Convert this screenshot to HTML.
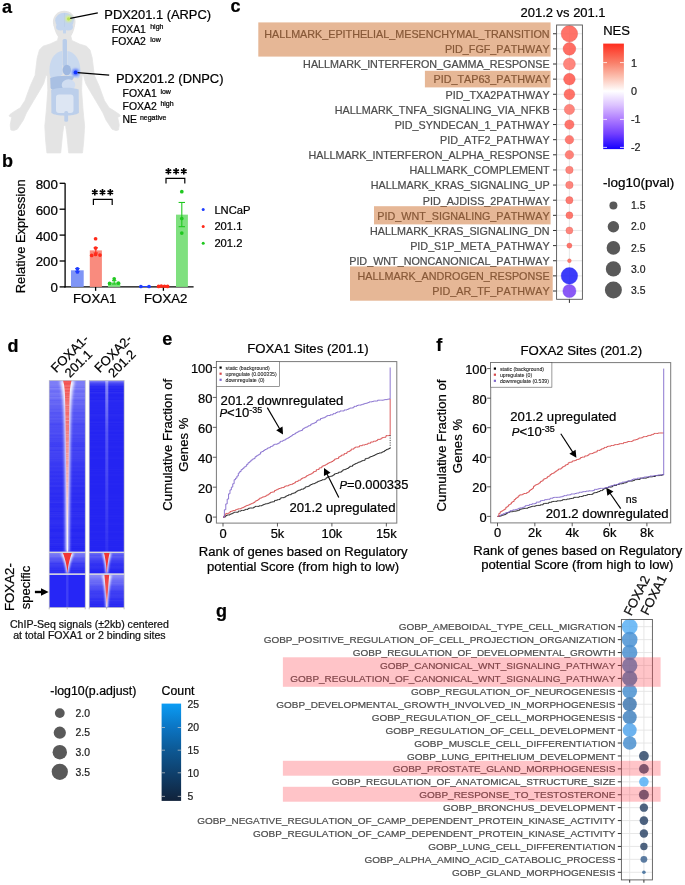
<!DOCTYPE html>
<html><head><meta charset="utf-8"><title>Figure</title>
<style>
html,body{margin:0;padding:0;background:#fff;width:685px;height:885px;overflow:hidden}
svg{display:block;font-family:"Liberation Sans",sans-serif;will-change:transform;font-kerning:none}
text{stroke:#000;stroke-width:0.22px}
</style></head><body>
<svg width="685" height="885" viewBox="0 0 685 885">
<defs>
<filter id="blur1" x="-50%" y="-50%" width="200%" height="200%"><feGaussianBlur stdDeviation="1"/></filter>
<filter id="blur05" x="-50%" y="-50%" width="200%" height="200%"><feGaussianBlur stdDeviation="0.5"/></filter>
<filter id="blur15" x="-50%" y="-50%" width="200%" height="200%"><feGaussianBlur stdDeviation="1.5"/></filter>
<filter id="glow" x="-100%" y="-100%" width="300%" height="300%"><feGaussianBlur stdDeviation="1.2"/></filter>
<linearGradient id="nes" x1="0" y1="0" x2="0" y2="1">
 <stop offset="0" stop-color="#ff2d1e"/>
 <stop offset="0.182" stop-color="#f9806a"/>
 <stop offset="0.316" stop-color="#fcc0b0"/>
 <stop offset="0.45" stop-color="#ffffff"/>
 <stop offset="0.584" stop-color="#dcc2ff"/>
 <stop offset="0.718" stop-color="#ae7cff"/>
 <stop offset="0.853" stop-color="#7440ff"/>
 <stop offset="1" stop-color="#1400ff"/>
</linearGradient>
<linearGradient id="cnt" x1="0" y1="0" x2="0" y2="1">
 <stop offset="0" stop-color="#0a9cf4"/>
 <stop offset="0.25" stop-color="#0b74c2"/>
 <stop offset="0.5" stop-color="#0d5690"/>
 <stop offset="0.75" stop-color="#0f3c66"/>
 <stop offset="1" stop-color="#11223a"/>
</linearGradient>
<linearGradient id="hm1bg" x1="0" y1="0" x2="0" y2="1">
 <stop offset="0" stop-color="#7272ea"/>
 <stop offset="0.3" stop-color="#5a5aea"/>
 <stop offset="1" stop-color="#3434f0"/>
</linearGradient>
<linearGradient id="hm2bg" x1="0" y1="0" x2="0" y2="1">
 <stop offset="0" stop-color="#4040ee"/>
 <stop offset="1" stop-color="#2828f2"/>
</linearGradient>
<linearGradient id="hmV" x1="0" y1="0" x2="1" y2="0">
 <stop offset="0" stop-color="#ffffff" stop-opacity="0"/>
 <stop offset="0.25" stop-color="#ffffff" stop-opacity="0.9"/>
 <stop offset="0.4" stop-color="#f25050"/>
 <stop offset="0.6" stop-color="#f25050"/>
 <stop offset="0.75" stop-color="#ffffff" stop-opacity="0.9"/>
 <stop offset="1" stop-color="#ffffff" stop-opacity="0"/>
</linearGradient>
</defs>
<rect x="0" y="0" width="685" height="885" fill="#fff"/>
<text x="2.00" y="12.80" font-size="18" text-anchor="start" fill="#000" font-weight="bold" >a</text>
<text x="2.00" y="166.90" font-size="18" text-anchor="start" fill="#000" font-weight="bold" >b</text>
<text x="230.50" y="11.60" font-size="18" text-anchor="start" fill="#000" font-weight="bold" >c</text>
<text x="7.60" y="351.60" font-size="18" text-anchor="start" fill="#000" font-weight="bold" >d</text>
<text x="162.20" y="345.20" font-size="18" text-anchor="start" fill="#000" font-weight="bold" >e</text>
<text x="436.30" y="351.10" font-size="18" text-anchor="start" fill="#000" font-weight="bold" >f</text>
<text x="216.00" y="617.30" font-size="18" text-anchor="start" fill="#000" font-weight="bold" >g</text>
<path d="M58.6,36.0 L57.5,40.5 L50.0,44.0 L43.0,46.2 L39.4,50.0 L37.2,58.0 L35.1,75.3 L30.5,85.4 L24.9,100.7 L20.3,107.8 L15.3,110.8 L10.0,114.4 L9.0,116.0 L11.7,117.3 L10.2,125.1 L10.9,130.0 L13.5,130.6 L17.3,129.2 L23.4,120.0 L26.4,112.9 L33.6,100.7 L39.7,90.5 L43.7,83.4 L46.0,75.0 L47.3,76.0 L47.8,90.5 L46.3,110.8 L44.8,126.1 L45.6,140.0 L46.9,152.9 L60.7,152.9 L62.6,134.0 L63.7,126.3 L64.7,125.3 L65.7,126.3 L66.8,134.0 L68.7,152.9 L82.5,152.9 L83.8,140.0 L84.6,126.1 L83.1,110.8 L81.6,90.5 L82.1,76.0 L83.4,75.0 L85.7,83.4 L89.7,90.5 L95.8,100.7 L103.0,112.9 L106.0,120.0 L112.1,129.2 L115.9,130.6 L118.5,130.0 L119.2,125.1 L117.7,117.3 L120.4,116.0 L119.4,114.4 L114.1,110.8 L109.1,107.8 L104.5,100.7 L98.9,85.4 L94.3,75.3 L92.2,58.0 L90.0,50.0 L86.4,46.2 L79.4,44.0 L71.9,40.5 L70.8,36.0 Z" fill="#e4e4e4" stroke="#e4e4e4" stroke-width="0.8" stroke-linejoin="round"/>
<ellipse cx="64.2" cy="22.0" rx="11.3" ry="11.3" fill="#e4e4e4"/>
<path d="M53.6,25 C54.5,31 56.5,35 58.6,37.5 L58.6,42 L70.2,42 L70.2,37.5 C72.2,35 74.2,31 75.0,25 Z" fill="#e4e4e4"/>
<ellipse cx="64.5" cy="20.6" rx="9.3" ry="7.9" fill="#c3d5ee"/>
<ellipse cx="60.6" cy="27.0" rx="4.6" ry="3.4" fill="#c3d5ee"/>
<ellipse cx="68.4" cy="27.0" rx="4.6" ry="3.4" fill="#c3d5ee"/>
<rect x="63.0" y="27" width="3.0" height="6.6" rx="1.2" fill="#c3d5ee"/>
<line x1="64.5" y1="13" x2="64.5" y2="27" stroke="#b4c8e6" stroke-width="0.5"/>
<rect x="62.6" y="39" width="4.4" height="27" rx="1.5" fill="#b9cdea"/>
<path d="M62.2,51 C56,51.5 50.5,58 49.6,67 C49.2,73 49.8,77.5 52,78.5 C56,78 60,76.5 62.6,74.5 Z" fill="#c9d9ef"/>
<path d="M67.4,51 C73.5,51.5 79,58 80.2,67 C80.6,73 80,77.5 78,78.5 C74,78 70,76.5 67.2,74.5 Z" fill="#c9d9ef"/>
<ellipse cx="66.8" cy="70" rx="4.2" ry="5.2" fill="#9fb8e0"/>
<path d="M50.2,78 C57,75.5 67,75 74,76.5 C73,81 68,85 62,88.5 C57,90.5 52,91 50.6,88 Z" fill="#a9c0e3"/>
<ellipse cx="68.5" cy="85" rx="6.8" ry="5.8" fill="#d0ddf1"/>
<path d="M51.2,90 C57,87.5 72,87 78.7,89.5 L78.9,113 C74,116.5 56,116.5 51.4,113 Z" fill="#bccfeb"/>
<rect x="56" y="94.5" width="17.5" height="18.5" rx="3" fill="#dde6f3"/>
<rect x="64.3" y="111" width="3.8" height="10.8" rx="1.5" fill="#bccfeb"/>
<circle cx="68.6" cy="18.8" r="3.2" fill="#d8f08a" filter="url(#glow)"/>
<circle cx="68.6" cy="18.8" r="1.6" fill="#b8e05a"/>
<circle cx="75.6" cy="72.4" r="3.6" fill="#6080ff" filter="url(#glow)"/>
<circle cx="75.6" cy="72.4" r="1.9" fill="#1030ff"/>
<line x1="70.20" y1="18.40" x2="97.80" y2="12.80" stroke="#000" stroke-width="1.3" />
<line x1="77.60" y1="72.60" x2="109.20" y2="75.10" stroke="#000" stroke-width="1.3" />
<text x="104.30" y="18.70" font-size="12.9" text-anchor="start" fill="#000" style="stroke:#000;stroke-width:0.22px" >PDX201.1 (ARPC)</text>
<text x="111.80" y="32.70" font-size="10.4" text-anchor="start" fill="#000" style="stroke:#000;stroke-width:0.22px" >FOXA1</text>
<text x="150.20" y="28.80" font-size="7" text-anchor="start" fill="#000" style="stroke:#000;stroke-width:0.22px" >high</text>
<text x="111.80" y="45.10" font-size="10.4" text-anchor="start" fill="#000" style="stroke:#000;stroke-width:0.22px" >FOXA2</text>
<text x="150.20" y="41.70" font-size="7" text-anchor="start" fill="#000" style="stroke:#000;stroke-width:0.22px" >low</text>
<text x="116.00" y="82.60" font-size="12.9" text-anchor="start" fill="#000" style="stroke:#000;stroke-width:0.22px" >PDX201.2 (DNPC)</text>
<text x="122.60" y="97.30" font-size="10.4" text-anchor="start" fill="#000" style="stroke:#000;stroke-width:0.22px" >FOXA1</text>
<text x="160.40" y="93.80" font-size="7" text-anchor="start" fill="#000" style="stroke:#000;stroke-width:0.22px" >low</text>
<text x="122.60" y="110.00" font-size="10.4" text-anchor="start" fill="#000" style="stroke:#000;stroke-width:0.22px" >FOXA2</text>
<text x="160.40" y="106.20" font-size="7" text-anchor="start" fill="#000" style="stroke:#000;stroke-width:0.22px" >high</text>
<text x="122.60" y="123.20" font-size="10.4" text-anchor="start" fill="#000" style="stroke:#000;stroke-width:0.22px" >NE</text>
<text x="139.90" y="119.60" font-size="7" text-anchor="start" fill="#000" style="stroke:#000;stroke-width:0.22px" >negative</text>
<line x1="65.10" y1="183.30" x2="65.10" y2="287.50" stroke="#000" stroke-width="1.3" />
<line x1="64.50" y1="286.90" x2="193.60" y2="286.90" stroke="#000" stroke-width="1.3" />
<line x1="59.60" y1="286.90" x2="65.10" y2="286.90" stroke="#000" stroke-width="1.3" />
<text x="57.90" y="292.30" font-size="13.3" text-anchor="end" fill="#000" style="stroke:#000;stroke-width:0.22px" >0</text>
<line x1="59.60" y1="261.00" x2="65.10" y2="261.00" stroke="#000" stroke-width="1.3" />
<text x="57.90" y="266.40" font-size="13.3" text-anchor="end" fill="#000" style="stroke:#000;stroke-width:0.22px" >200</text>
<line x1="59.60" y1="235.10" x2="65.10" y2="235.10" stroke="#000" stroke-width="1.3" />
<text x="57.90" y="240.50" font-size="13.3" text-anchor="end" fill="#000" style="stroke:#000;stroke-width:0.22px" >400</text>
<line x1="59.60" y1="209.20" x2="65.10" y2="209.20" stroke="#000" stroke-width="1.3" />
<text x="57.90" y="214.60" font-size="13.3" text-anchor="end" fill="#000" style="stroke:#000;stroke-width:0.22px" >600</text>
<line x1="59.60" y1="183.30" x2="65.10" y2="183.30" stroke="#000" stroke-width="1.3" />
<text x="57.90" y="188.70" font-size="13.3" text-anchor="end" fill="#000" style="stroke:#000;stroke-width:0.22px" >800</text>
<line x1="95.60" y1="286.90" x2="95.60" y2="290.80" stroke="#000" stroke-width="1.3" />
<line x1="163.40" y1="286.90" x2="163.40" y2="290.80" stroke="#000" stroke-width="1.3" />
<text x="94.70" y="302.80" font-size="13.2" text-anchor="middle" fill="#000" style="stroke:#000;stroke-width:0.22px" >FOXA1</text>
<text x="165.70" y="302.80" font-size="13.2" text-anchor="middle" fill="#000" style="stroke:#000;stroke-width:0.22px" >FOXA2</text>
<text transform="translate(25.3,236.3) rotate(-90)" font-size="12.9" text-anchor="middle">Relative Expression</text>
<rect x="71.00" y="270.32" width="12.70" height="16.58" fill="#7f95f6" />
<rect x="89.80" y="250.38" width="12.10" height="36.52" fill="#f98b7e" />
<rect x="108.00" y="282.37" width="12.30" height="4.53" fill="#7fe07f" />
<rect x="176.00" y="214.64" width="11.90" height="72.26" fill="#7fe07f" />
<line x1="77.40" y1="271.36" x2="77.40" y2="268.51" stroke="#1f3dff" stroke-width="1.1" />
<line x1="75.20" y1="268.51" x2="79.60" y2="268.51" stroke="#1f3dff" stroke-width="1.1" />
<line x1="75.20" y1="271.36" x2="79.60" y2="271.36" stroke="#1f3dff" stroke-width="1.1" />
<line x1="95.80" y1="252.97" x2="95.80" y2="247.79" stroke="#ff2a1a" stroke-width="1.1" />
<line x1="93.60" y1="247.79" x2="98.00" y2="247.79" stroke="#ff2a1a" stroke-width="1.1" />
<line x1="93.60" y1="252.97" x2="98.00" y2="252.97" stroke="#ff2a1a" stroke-width="1.1" />
<line x1="114.20" y1="284.05" x2="114.20" y2="280.68" stroke="#20c820" stroke-width="1.1" />
<line x1="112.00" y1="280.68" x2="116.40" y2="280.68" stroke="#20c820" stroke-width="1.1" />
<line x1="112.00" y1="284.05" x2="116.40" y2="284.05" stroke="#20c820" stroke-width="1.1" />
<line x1="181.80" y1="226.68" x2="181.80" y2="202.47" stroke="#20c820" stroke-width="1.1" />
<line x1="178.60" y1="202.47" x2="185.00" y2="202.47" stroke="#20c820" stroke-width="1.1" />
<line x1="178.60" y1="226.68" x2="185.00" y2="226.68" stroke="#20c820" stroke-width="1.1" />
<circle cx="77.40" cy="268.77" r="1.85" fill="#1f3dff" />
<circle cx="77.40" cy="272.01" r="1.85" fill="#1f3dff" />
<circle cx="95.60" cy="238.73" r="1.85" fill="#ff2a1a" />
<circle cx="95.60" cy="248.05" r="1.85" fill="#ff2a1a" />
<circle cx="91.70" cy="255.43" r="1.85" fill="#ff2a1a" />
<circle cx="95.60" cy="254.52" r="1.85" fill="#ff2a1a" />
<circle cx="100.00" cy="255.04" r="1.85" fill="#ff2a1a" />
<circle cx="114.20" cy="278.87" r="1.85" fill="#20c820" />
<circle cx="109.60" cy="283.40" r="1.85" fill="#20c820" />
<circle cx="118.40" cy="283.14" r="1.85" fill="#20c820" />
<line x1="140.90" y1="286.51" x2="149.00" y2="286.51" stroke="#1f3dff" stroke-width="1.0" />
<line x1="158.60" y1="286.38" x2="167.60" y2="286.38" stroke="#ff2a1a" stroke-width="1.0" />
<circle cx="140.90" cy="286.51" r="1.85" fill="#1f3dff" />
<circle cx="149.00" cy="286.51" r="1.85" fill="#1f3dff" />
<circle cx="158.60" cy="286.38" r="1.85" fill="#ff2a1a" />
<circle cx="161.30" cy="286.12" r="1.85" fill="#ff2a1a" />
<circle cx="164.50" cy="286.25" r="1.85" fill="#ff2a1a" />
<circle cx="167.60" cy="286.38" r="1.85" fill="#ff2a1a" />
<circle cx="181.80" cy="191.72" r="1.85" fill="#20c820" />
<circle cx="181.80" cy="218.52" r="1.85" fill="#20c820" />
<circle cx="181.80" cy="233.03" r="1.85" fill="#20c820" />
<path d="M93.4,204.9 L93.4,199.3 L112.2,199.3 L112.2,204.9" fill="none" stroke="#000" stroke-width="1.2"/>
<path d="M166.0,183.6 L166.0,178.3 L184.8,178.3 L184.8,183.6" fill="none" stroke="#000" stroke-width="1.2"/>
<path d="M94.80,189.10 L94.80,195.50 M92.03,190.70 L97.57,193.90 M97.57,190.70 L92.03,193.90 " stroke="#000" stroke-width="1.6" stroke-linecap="butt"/>
<path d="M102.50,189.10 L102.50,195.50 M99.73,190.70 L105.27,193.90 M105.27,190.70 L99.73,193.90 " stroke="#000" stroke-width="1.6" stroke-linecap="butt"/>
<path d="M110.30,189.10 L110.30,195.50 M107.53,190.70 L113.07,193.90 M113.07,190.70 L107.53,193.90 " stroke="#000" stroke-width="1.6" stroke-linecap="butt"/>
<path d="M168.40,168.10 L168.40,174.50 M165.63,169.70 L171.17,172.90 M171.17,169.70 L165.63,172.90 " stroke="#000" stroke-width="1.6" stroke-linecap="butt"/>
<path d="M176.10,168.10 L176.10,174.50 M173.33,169.70 L178.87,172.90 M178.87,169.70 L173.33,172.90 " stroke="#000" stroke-width="1.6" stroke-linecap="butt"/>
<path d="M183.80,168.10 L183.80,174.50 M181.03,169.70 L186.57,172.90 M186.57,169.70 L181.03,172.90 " stroke="#000" stroke-width="1.6" stroke-linecap="butt"/>
<circle cx="203.20" cy="209.50" r="1.50" fill="#1f3dff" />
<text x="214.40" y="213.50" font-size="11.2" text-anchor="start" fill="#000" style="stroke:#000;stroke-width:0.22px" >LNCaP</text>
<circle cx="203.20" cy="226.40" r="1.50" fill="#ff2a1a" />
<text x="214.40" y="230.40" font-size="11.2" text-anchor="start" fill="#000" style="stroke:#000;stroke-width:0.22px" >201.1</text>
<circle cx="203.20" cy="243.20" r="1.50" fill="#20c820" />
<text x="214.40" y="247.20" font-size="11.2" text-anchor="start" fill="#000" style="stroke:#000;stroke-width:0.22px" >201.2</text>
<line x1="556.60" y1="33.75" x2="582.40" y2="33.75" stroke="#e4e4e4" stroke-width="0.9" />
<line x1="556.60" y1="48.88" x2="582.40" y2="48.88" stroke="#e4e4e4" stroke-width="0.9" />
<line x1="556.60" y1="64.01" x2="582.40" y2="64.01" stroke="#e4e4e4" stroke-width="0.9" />
<line x1="556.60" y1="79.15" x2="582.40" y2="79.15" stroke="#e4e4e4" stroke-width="0.9" />
<line x1="556.60" y1="94.28" x2="582.40" y2="94.28" stroke="#e4e4e4" stroke-width="0.9" />
<line x1="556.60" y1="109.41" x2="582.40" y2="109.41" stroke="#e4e4e4" stroke-width="0.9" />
<line x1="556.60" y1="124.54" x2="582.40" y2="124.54" stroke="#e4e4e4" stroke-width="0.9" />
<line x1="556.60" y1="139.68" x2="582.40" y2="139.68" stroke="#e4e4e4" stroke-width="0.9" />
<line x1="556.60" y1="154.81" x2="582.40" y2="154.81" stroke="#e4e4e4" stroke-width="0.9" />
<line x1="556.60" y1="169.94" x2="582.40" y2="169.94" stroke="#e4e4e4" stroke-width="0.9" />
<line x1="556.60" y1="185.07" x2="582.40" y2="185.07" stroke="#e4e4e4" stroke-width="0.9" />
<line x1="556.60" y1="200.21" x2="582.40" y2="200.21" stroke="#e4e4e4" stroke-width="0.9" />
<line x1="556.60" y1="215.34" x2="582.40" y2="215.34" stroke="#e4e4e4" stroke-width="0.9" />
<line x1="556.60" y1="230.47" x2="582.40" y2="230.47" stroke="#e4e4e4" stroke-width="0.9" />
<line x1="556.60" y1="245.60" x2="582.40" y2="245.60" stroke="#e4e4e4" stroke-width="0.9" />
<line x1="556.60" y1="260.74" x2="582.40" y2="260.74" stroke="#e4e4e4" stroke-width="0.9" />
<line x1="556.60" y1="275.87" x2="582.40" y2="275.87" stroke="#e4e4e4" stroke-width="0.9" />
<line x1="556.60" y1="291.00" x2="582.40" y2="291.00" stroke="#e4e4e4" stroke-width="0.9" />
<line x1="569.40" y1="25.00" x2="569.40" y2="299.30" stroke="#e4e4e4" stroke-width="0.9" />
<circle cx="569.40" cy="33.75" r="8.25" fill="#ff5b4f" fill-opacity="0.85" stroke="#d84e48" stroke-width="0.6" stroke-opacity="0.55"/>
<text x="549.60" y="38.05" font-size="10.78" text-anchor="end" fill="#4d4d4d" style="stroke:#4d4d4d;stroke-width:0.22px" >HALLMARK_EPITHELIAL_MESENCHYMAL_TRANSITION</text>
<line x1="553.00" y1="33.75" x2="556.60" y2="33.75" stroke="#333" stroke-width="1.0" />
<circle cx="569.40" cy="48.88" r="6.35" fill="#ff5448" fill-opacity="0.85" stroke="#d84a44" stroke-width="0.6" stroke-opacity="0.55"/>
<text x="549.60" y="53.18" font-size="10.78" text-anchor="end" fill="#4d4d4d" style="stroke:#4d4d4d;stroke-width:0.22px" >PID_FGF_PATHWAY</text>
<line x1="553.00" y1="48.88" x2="556.60" y2="48.88" stroke="#333" stroke-width="1.0" />
<circle cx="569.40" cy="64.01" r="6.00" fill="#ff7166" fill-opacity="0.85" stroke="#d85b55" stroke-width="0.6" stroke-opacity="0.55"/>
<text x="549.60" y="68.31" font-size="10.78" text-anchor="end" fill="#4d4d4d" style="stroke:#4d4d4d;stroke-width:0.22px" >HALLMARK_INTERFERON_GAMMA_RESPONSE</text>
<line x1="553.00" y1="64.01" x2="556.60" y2="64.01" stroke="#333" stroke-width="1.0" />
<circle cx="569.40" cy="79.15" r="5.80" fill="#ff5448" fill-opacity="0.85" stroke="#d84a44" stroke-width="0.6" stroke-opacity="0.55"/>
<text x="549.60" y="83.45" font-size="10.78" text-anchor="end" fill="#4d4d4d" style="stroke:#4d4d4d;stroke-width:0.22px" >PID_TAP63_PATHWAY</text>
<line x1="553.00" y1="79.15" x2="556.60" y2="79.15" stroke="#333" stroke-width="1.0" />
<circle cx="569.40" cy="94.28" r="5.40" fill="#ff594d" fill-opacity="0.85" stroke="#d84d46" stroke-width="0.6" stroke-opacity="0.55"/>
<text x="549.60" y="98.58" font-size="10.78" text-anchor="end" fill="#4d4d4d" style="stroke:#4d4d4d;stroke-width:0.22px" >PID_TXA2PATHWAY</text>
<line x1="553.00" y1="94.28" x2="556.60" y2="94.28" stroke="#333" stroke-width="1.0" />
<circle cx="569.40" cy="109.41" r="5.15" fill="#ff7166" fill-opacity="0.85" stroke="#d85b55" stroke-width="0.6" stroke-opacity="0.55"/>
<text x="549.60" y="113.71" font-size="10.78" text-anchor="end" fill="#4d4d4d" style="stroke:#4d4d4d;stroke-width:0.22px" >HALLMARK_TNFA_SIGNALING_VIA_NFKB</text>
<line x1="553.00" y1="109.41" x2="556.60" y2="109.41" stroke="#333" stroke-width="1.0" />
<circle cx="569.40" cy="124.54" r="4.65" fill="#ff5d52" fill-opacity="0.85" stroke="#d85049" stroke-width="0.6" stroke-opacity="0.55"/>
<text x="549.60" y="128.84" font-size="10.78" text-anchor="end" fill="#4d4d4d" style="stroke:#4d4d4d;stroke-width:0.22px" >PID_SYNDECAN_1_PATHWAY</text>
<line x1="553.00" y1="124.54" x2="556.60" y2="124.54" stroke="#333" stroke-width="1.0" />
<circle cx="569.40" cy="139.68" r="4.30" fill="#ff6459" fill-opacity="0.85" stroke="#d8544d" stroke-width="0.6" stroke-opacity="0.55"/>
<text x="549.60" y="143.98" font-size="10.78" text-anchor="end" fill="#4d4d4d" style="stroke:#4d4d4d;stroke-width:0.22px" >PID_ATF2_PATHWAY</text>
<line x1="553.00" y1="139.68" x2="556.60" y2="139.68" stroke="#333" stroke-width="1.0" />
<circle cx="569.40" cy="154.81" r="4.30" fill="#ff6b60" fill-opacity="0.85" stroke="#d85851" stroke-width="0.6" stroke-opacity="0.55"/>
<text x="549.60" y="159.11" font-size="10.78" text-anchor="end" fill="#4d4d4d" style="stroke:#4d4d4d;stroke-width:0.22px" >HALLMARK_INTERFERON_ALPHA_RESPONSE</text>
<line x1="553.00" y1="154.81" x2="556.60" y2="154.81" stroke="#333" stroke-width="1.0" />
<circle cx="569.40" cy="169.94" r="3.75" fill="#ff7166" fill-opacity="0.85" stroke="#d85b55" stroke-width="0.6" stroke-opacity="0.55"/>
<text x="549.60" y="174.24" font-size="10.78" text-anchor="end" fill="#4d4d4d" style="stroke:#4d4d4d;stroke-width:0.22px" >HALLMARK_COMPLEMENT</text>
<line x1="553.00" y1="169.94" x2="556.60" y2="169.94" stroke="#333" stroke-width="1.0" />
<circle cx="569.40" cy="185.07" r="3.75" fill="#ff7166" fill-opacity="0.85" stroke="#d85b55" stroke-width="0.6" stroke-opacity="0.55"/>
<text x="549.60" y="189.37" font-size="10.78" text-anchor="end" fill="#4d4d4d" style="stroke:#4d4d4d;stroke-width:0.22px" >HALLMARK_KRAS_SIGNALING_UP</text>
<line x1="553.00" y1="185.07" x2="556.60" y2="185.07" stroke="#333" stroke-width="1.0" />
<circle cx="569.40" cy="200.21" r="3.60" fill="#ff6459" fill-opacity="0.85" stroke="#d8544d" stroke-width="0.6" stroke-opacity="0.55"/>
<text x="549.60" y="204.51" font-size="10.78" text-anchor="end" fill="#4d4d4d" style="stroke:#4d4d4d;stroke-width:0.22px" >PID_AJDISS_2PATHWAY</text>
<line x1="553.00" y1="200.21" x2="556.60" y2="200.21" stroke="#333" stroke-width="1.0" />
<circle cx="569.40" cy="215.34" r="3.50" fill="#ff6054" fill-opacity="0.85" stroke="#d8514a" stroke-width="0.6" stroke-opacity="0.55"/>
<text x="549.60" y="219.64" font-size="10.78" text-anchor="end" fill="#4d4d4d" style="stroke:#4d4d4d;stroke-width:0.22px" >PID_WNT_SIGNALING_PATHWAY</text>
<line x1="553.00" y1="215.34" x2="556.60" y2="215.34" stroke="#333" stroke-width="1.0" />
<circle cx="569.40" cy="230.47" r="3.50" fill="#ff7166" fill-opacity="0.85" stroke="#d85b55" stroke-width="0.6" stroke-opacity="0.55"/>
<text x="549.60" y="234.77" font-size="10.78" text-anchor="end" fill="#4d4d4d" style="stroke:#4d4d4d;stroke-width:0.22px" >HALLMARK_KRAS_SIGNALING_DN</text>
<line x1="553.00" y1="230.47" x2="556.60" y2="230.47" stroke="#333" stroke-width="1.0" />
<circle cx="569.40" cy="245.60" r="2.55" fill="#ff5d52" fill-opacity="0.85" stroke="#d85049" stroke-width="0.6" stroke-opacity="0.55"/>
<text x="549.60" y="249.90" font-size="10.78" text-anchor="end" fill="#4d4d4d" style="stroke:#4d4d4d;stroke-width:0.22px" >PID_S1P_META_PATHWAY</text>
<line x1="553.00" y1="245.60" x2="556.60" y2="245.60" stroke="#333" stroke-width="1.0" />
<circle cx="569.40" cy="260.74" r="1.90" fill="#ff675b" fill-opacity="0.85" stroke="#d8554e" stroke-width="0.6" stroke-opacity="0.55"/>
<text x="549.60" y="265.04" font-size="10.78" text-anchor="end" fill="#4d4d4d" style="stroke:#4d4d4d;stroke-width:0.22px" >PID_WNT_NONCANONICAL_PATHWAY</text>
<line x1="553.00" y1="260.74" x2="556.60" y2="260.74" stroke="#333" stroke-width="1.0" />
<circle cx="569.40" cy="275.87" r="8.30" fill="#1b1bf9" fill-opacity="0.85" stroke="#2b2bf0" stroke-width="0.6" stroke-opacity="0.55"/>
<text x="549.60" y="280.17" font-size="10.78" text-anchor="end" fill="#4d4d4d" style="stroke:#4d4d4d;stroke-width:0.22px" >HALLMARK_ANDROGEN_RESPONSE</text>
<line x1="553.00" y1="275.87" x2="556.60" y2="275.87" stroke="#333" stroke-width="1.0" />
<circle cx="569.40" cy="291.00" r="6.60" fill="#773cf4" fill-opacity="0.85" stroke="#623eec" stroke-width="0.6" stroke-opacity="0.55"/>
<text x="549.60" y="295.30" font-size="10.78" text-anchor="end" fill="#4d4d4d" style="stroke:#4d4d4d;stroke-width:0.22px" >PID_AR_TF_PATHWAY</text>
<line x1="553.00" y1="291.00" x2="556.60" y2="291.00" stroke="#333" stroke-width="1.0" />
<rect x="556.6" y="25.0" width="25.799999999999955" height="274.3" fill="none" stroke="#555" stroke-width="0.9"/>
<line x1="569.40" y1="299.30" x2="569.40" y2="302.90" stroke="#333" stroke-width="1.0" />
<rect x="258.3" y="22.4" width="292.3" height="34.2" fill="#ca6620" fill-opacity="0.47"/>
<rect x="424.9" y="70.8" width="125.7" height="16.6" fill="#ca6620" fill-opacity="0.47"/>
<rect x="374.0" y="206.2" width="176.6" height="18.2" fill="#ca6620" fill-opacity="0.47"/>
<rect x="350.0" y="266.4" width="202.7" height="34.3" fill="#ca6620" fill-opacity="0.47"/>
<text x="520.60" y="16.80" font-size="12.96" text-anchor="start" fill="#000" style="stroke:#000;stroke-width:0.22px" >201.2 vs 201.1</text>
<text x="603.20" y="35.40" font-size="13.0" text-anchor="start" fill="#000" style="stroke:#000;stroke-width:0.22px" >NES</text>
<rect x="603.2" y="43.6" width="20.7" height="105.5" fill="url(#nes)"/>
<line x1="603.20" y1="62.60" x2="607.00" y2="62.60" stroke="#fff" stroke-width="0.8" />
<line x1="620.00" y1="62.60" x2="623.90" y2="62.60" stroke="#fff" stroke-width="0.8" />
<text x="630.90" y="66.50" font-size="10.8" text-anchor="start" fill="#222" style="stroke:#222;stroke-width:0.22px" >1</text>
<line x1="603.20" y1="91.10" x2="607.00" y2="91.10" stroke="#fff" stroke-width="0.8" />
<line x1="620.00" y1="91.10" x2="623.90" y2="91.10" stroke="#fff" stroke-width="0.8" />
<text x="630.90" y="95.00" font-size="10.8" text-anchor="start" fill="#222" style="stroke:#222;stroke-width:0.22px" >0</text>
<line x1="603.20" y1="119.40" x2="607.00" y2="119.40" stroke="#fff" stroke-width="0.8" />
<line x1="620.00" y1="119.40" x2="623.90" y2="119.40" stroke="#fff" stroke-width="0.8" />
<text x="630.90" y="123.30" font-size="10.8" text-anchor="start" fill="#222" style="stroke:#222;stroke-width:0.22px" >-1</text>
<line x1="603.20" y1="147.40" x2="607.00" y2="147.40" stroke="#fff" stroke-width="0.8" />
<line x1="620.00" y1="147.40" x2="623.90" y2="147.40" stroke="#fff" stroke-width="0.8" />
<text x="630.90" y="151.30" font-size="10.8" text-anchor="start" fill="#222" style="stroke:#222;stroke-width:0.22px" >-2</text>
<text x="603.00" y="187.30" font-size="12.0" text-anchor="start" fill="#000" style="stroke:#000;stroke-width:0.22px" textLength="71.2" lengthAdjust="spacingAndGlyphs">-log10(pval)</text>
<circle cx="613.40" cy="205.50" r="4.00" fill="#595959" />
<text x="631.00" y="209.20" font-size="10.4" text-anchor="start" fill="#222" style="stroke:#222;stroke-width:0.22px" >1.5</text>
<circle cx="613.40" cy="226.70" r="5.70" fill="#595959" />
<text x="631.00" y="230.40" font-size="10.4" text-anchor="start" fill="#222" style="stroke:#222;stroke-width:0.22px" >2.0</text>
<circle cx="613.40" cy="247.90" r="6.80" fill="#595959" />
<text x="631.00" y="251.60" font-size="10.4" text-anchor="start" fill="#222" style="stroke:#222;stroke-width:0.22px" >2.5</text>
<circle cx="613.40" cy="268.90" r="7.60" fill="#595959" />
<text x="631.00" y="272.60" font-size="10.4" text-anchor="start" fill="#222" style="stroke:#222;stroke-width:0.22px" >3.0</text>
<circle cx="613.40" cy="290.10" r="8.50" fill="#595959" />
<text x="631.00" y="293.80" font-size="10.4" text-anchor="start" fill="#222" style="stroke:#222;stroke-width:0.22px" >3.5</text>
<defs><linearGradient id="topL" x1="0" y1="0" x2="0" y2="1">
 <stop offset="0" stop-color="#fff" stop-opacity="0.38"/>
 <stop offset="0.25" stop-color="#fff" stop-opacity="0.16"/>
 <stop offset="0.6" stop-color="#fff" stop-opacity="0.04"/>
 <stop offset="1" stop-color="#fff" stop-opacity="0"/>
</linearGradient>
<linearGradient id="redfade" x1="0" y1="0" x2="0" y2="1">
 <stop offset="0" stop-color="#f25050"/>
 <stop offset="0.25" stop-color="#f27474"/>
 <stop offset="0.55" stop-color="#f4a8a8"/>
 <stop offset="0.8" stop-color="#fbe4e4"/>
 <stop offset="1" stop-color="#ffffff"/>
</linearGradient>
<linearGradient id="redfade2" x1="0" y1="0" x2="0" y2="1">
 <stop offset="0" stop-color="#f03c3c"/>
 <stop offset="0.55" stop-color="#f05a5a"/>
 <stop offset="0.85" stop-color="#f7b8b8"/>
 <stop offset="1" stop-color="#ffffff"/>
</linearGradient>
<linearGradient id="cl2" x1="0" y1="0" x2="0" y2="1">
 <stop offset="0" stop-color="#fff" stop-opacity="0.45"/>
 <stop offset="0.3" stop-color="#fff" stop-opacity="0.22"/>
 <stop offset="1" stop-color="#fff" stop-opacity="0.06"/>
</linearGradient>
<linearGradient id="topL2" x1="0" y1="0" x2="0" y2="1">
 <stop offset="0" stop-color="#fff" stop-opacity="0.45"/>
 <stop offset="0.5" stop-color="#fff" stop-opacity="0.12"/>
 <stop offset="1" stop-color="#fff" stop-opacity="0"/>
</linearGradient></defs>
<rect x="49.20" y="380.60" width="36.00" height="171.20" fill="#2424f2" />
<rect x="49.20" y="380.60" width="36.00" height="171.20" fill="url(#topL)" />
<rect x="49.20" y="380.60" width="36.00" height="0.91" fill="#ffffff" fill-opacity="0.078"/>
<rect x="49.20" y="381.51" width="36.00" height="1.33" fill="#ffffff" fill-opacity="0.065"/>
<rect x="49.20" y="382.84" width="36.00" height="0.96" fill="#ffffff" fill-opacity="0.081"/>
<rect x="49.20" y="383.80" width="36.00" height="0.67" fill="#ffffff" fill-opacity="0.070"/>
<rect x="49.20" y="384.46" width="36.00" height="1.07" fill="#ffffff" fill-opacity="0.108"/>
<rect x="49.20" y="385.53" width="36.00" height="0.58" fill="#ffffff" fill-opacity="0.041"/>
<rect x="49.20" y="386.11" width="36.00" height="0.58" fill="#ffffff" fill-opacity="0.109"/>
<rect x="49.20" y="387.82" width="36.00" height="1.38" fill="#ffffff" fill-opacity="0.128"/>
<rect x="49.20" y="389.20" width="36.00" height="1.09" fill="#ffffff" fill-opacity="0.081"/>
<rect x="49.20" y="391.91" width="36.00" height="0.67" fill="#ffffff" fill-opacity="0.031"/>
<rect x="49.20" y="392.58" width="36.00" height="0.53" fill="#ffffff" fill-opacity="0.059"/>
<rect x="49.20" y="393.11" width="36.00" height="0.90" fill="#ffffff" fill-opacity="0.107"/>
<rect x="49.20" y="394.00" width="36.00" height="0.97" fill="#ffffff" fill-opacity="0.081"/>
<rect x="49.20" y="394.97" width="36.00" height="0.95" fill="#ffffff" fill-opacity="0.083"/>
<rect x="49.20" y="395.92" width="36.00" height="0.91" fill="#ffffff" fill-opacity="0.035"/>
<rect x="49.20" y="396.83" width="36.00" height="1.40" fill="#ffffff" fill-opacity="0.123"/>
<rect x="49.20" y="398.23" width="36.00" height="1.26" fill="#ffffff" fill-opacity="0.086"/>
<rect x="49.20" y="399.49" width="36.00" height="0.78" fill="#ffffff" fill-opacity="0.028"/>
<rect x="49.20" y="401.03" width="36.00" height="1.19" fill="#ffffff" fill-opacity="0.048"/>
<rect x="49.20" y="402.22" width="36.00" height="1.26" fill="#ffffff" fill-opacity="0.046"/>
<rect x="49.20" y="403.48" width="36.00" height="1.36" fill="#ffffff" fill-opacity="0.099"/>
<rect x="49.20" y="404.84" width="36.00" height="0.50" fill="#ffffff" fill-opacity="0.024"/>
<rect x="49.20" y="405.34" width="36.00" height="1.32" fill="#ffffff" fill-opacity="0.054"/>
<rect x="49.20" y="406.66" width="36.00" height="1.38" fill="#ffffff" fill-opacity="0.045"/>
<rect x="49.20" y="408.05" width="36.00" height="0.57" fill="#ffffff" fill-opacity="0.071"/>
<rect x="49.20" y="408.61" width="36.00" height="1.20" fill="#ffffff" fill-opacity="0.030"/>
<rect x="49.20" y="409.81" width="36.00" height="0.58" fill="#ffffff" fill-opacity="0.037"/>
<rect x="49.20" y="410.39" width="36.00" height="1.37" fill="#ffffff" fill-opacity="0.083"/>
<rect x="49.20" y="411.76" width="36.00" height="0.61" fill="#ffffff" fill-opacity="0.027"/>
<rect x="49.20" y="412.96" width="36.00" height="1.22" fill="#ffffff" fill-opacity="0.019"/>
<rect x="49.20" y="414.17" width="36.00" height="1.00" fill="#ffffff" fill-opacity="0.047"/>
<rect x="49.20" y="415.18" width="36.00" height="0.67" fill="#ffffff" fill-opacity="0.077"/>
<rect x="49.20" y="415.85" width="36.00" height="0.62" fill="#ffffff" fill-opacity="0.067"/>
<rect x="49.20" y="416.47" width="36.00" height="0.60" fill="#ffffff" fill-opacity="0.044"/>
<rect x="49.20" y="417.07" width="36.00" height="0.69" fill="#ffffff" fill-opacity="0.028"/>
<rect x="49.20" y="417.76" width="36.00" height="1.37" fill="#ffffff" fill-opacity="0.082"/>
<rect x="49.20" y="419.14" width="36.00" height="0.77" fill="#ffffff" fill-opacity="0.089"/>
<rect x="49.20" y="419.91" width="36.00" height="0.69" fill="#ffffff" fill-opacity="0.040"/>
<rect x="49.20" y="420.60" width="36.00" height="1.27" fill="#ffffff" fill-opacity="0.064"/>
<rect x="49.20" y="421.87" width="36.00" height="0.59" fill="#ffffff" fill-opacity="0.097"/>
<rect x="49.20" y="422.46" width="36.00" height="0.69" fill="#ffffff" fill-opacity="0.025"/>
<rect x="49.20" y="423.15" width="36.00" height="1.20" fill="#ffffff" fill-opacity="0.032"/>
<rect x="49.20" y="425.11" width="36.00" height="0.58" fill="#ffffff" fill-opacity="0.055"/>
<rect x="49.20" y="425.69" width="36.00" height="0.72" fill="#ffffff" fill-opacity="0.057"/>
<rect x="49.20" y="426.41" width="36.00" height="0.83" fill="#ffffff" fill-opacity="0.042"/>
<rect x="49.20" y="427.25" width="36.00" height="1.36" fill="#ffffff" fill-opacity="0.045"/>
<rect x="49.20" y="428.61" width="36.00" height="1.02" fill="#ffffff" fill-opacity="0.079"/>
<rect x="49.20" y="429.63" width="36.00" height="0.66" fill="#ffffff" fill-opacity="0.014"/>
<rect x="49.20" y="430.29" width="36.00" height="1.32" fill="#ffffff" fill-opacity="0.073"/>
<rect x="49.20" y="431.61" width="36.00" height="0.72" fill="#ffffff" fill-opacity="0.017"/>
<rect x="49.20" y="432.33" width="36.00" height="1.17" fill="#ffffff" fill-opacity="0.082"/>
<rect x="49.20" y="433.50" width="36.00" height="0.68" fill="#ffffff" fill-opacity="0.082"/>
<rect x="49.20" y="434.18" width="36.00" height="1.29" fill="#ffffff" fill-opacity="0.052"/>
<rect x="49.20" y="436.35" width="36.00" height="0.53" fill="#ffffff" fill-opacity="0.081"/>
<rect x="49.20" y="436.89" width="36.00" height="0.71" fill="#ffffff" fill-opacity="0.059"/>
<rect x="49.20" y="437.60" width="36.00" height="0.73" fill="#ffffff" fill-opacity="0.068"/>
<rect x="49.20" y="438.33" width="36.00" height="1.04" fill="#ffffff" fill-opacity="0.024"/>
<rect x="49.20" y="439.37" width="36.00" height="0.66" fill="#ffffff" fill-opacity="0.058"/>
<rect x="49.20" y="440.03" width="36.00" height="0.56" fill="#ffffff" fill-opacity="0.018"/>
<rect x="49.20" y="440.59" width="36.00" height="1.00" fill="#ffffff" fill-opacity="0.068"/>
<rect x="49.20" y="441.59" width="36.00" height="1.05" fill="#ffffff" fill-opacity="0.022"/>
<rect x="49.20" y="442.64" width="36.00" height="1.33" fill="#ffffff" fill-opacity="0.016"/>
<rect x="49.20" y="443.97" width="36.00" height="0.51" fill="#ffffff" fill-opacity="0.020"/>
<rect x="49.20" y="445.39" width="36.00" height="0.66" fill="#ffffff" fill-opacity="0.027"/>
<rect x="49.20" y="447.06" width="36.00" height="0.83" fill="#ffffff" fill-opacity="0.065"/>
<rect x="49.20" y="447.89" width="36.00" height="1.38" fill="#ffffff" fill-opacity="0.047"/>
<rect x="49.20" y="449.27" width="36.00" height="1.12" fill="#ffffff" fill-opacity="0.041"/>
<rect x="49.20" y="451.02" width="36.00" height="0.52" fill="#ffffff" fill-opacity="0.063"/>
<rect x="49.20" y="451.53" width="36.00" height="1.13" fill="#ffffff" fill-opacity="0.066"/>
<rect x="49.20" y="452.66" width="36.00" height="0.52" fill="#ffffff" fill-opacity="0.043"/>
<rect x="49.20" y="453.18" width="36.00" height="0.93" fill="#ffffff" fill-opacity="0.049"/>
<rect x="49.20" y="454.12" width="36.00" height="0.79" fill="#ffffff" fill-opacity="0.066"/>
<rect x="49.20" y="454.90" width="36.00" height="0.57" fill="#ffffff" fill-opacity="0.035"/>
<rect x="49.20" y="455.47" width="36.00" height="1.16" fill="#ffffff" fill-opacity="0.058"/>
<rect x="49.20" y="456.63" width="36.00" height="1.16" fill="#ffffff" fill-opacity="0.044"/>
<rect x="49.20" y="457.80" width="36.00" height="1.21" fill="#ffffff" fill-opacity="0.057"/>
<rect x="49.20" y="459.01" width="36.00" height="0.82" fill="#ffffff" fill-opacity="0.042"/>
<rect x="49.20" y="459.83" width="36.00" height="1.31" fill="#ffffff" fill-opacity="0.052"/>
<rect x="49.20" y="461.14" width="36.00" height="0.88" fill="#ffffff" fill-opacity="0.046"/>
<rect x="49.20" y="462.01" width="36.00" height="1.28" fill="#ffffff" fill-opacity="0.033"/>
<rect x="49.20" y="463.29" width="36.00" height="1.06" fill="#ffffff" fill-opacity="0.022"/>
<rect x="49.20" y="464.35" width="36.00" height="1.02" fill="#ffffff" fill-opacity="0.034"/>
<rect x="49.20" y="465.38" width="36.00" height="0.57" fill="#ffffff" fill-opacity="0.035"/>
<rect x="49.20" y="465.95" width="36.00" height="1.39" fill="#ffffff" fill-opacity="0.047"/>
<rect x="49.20" y="467.34" width="36.00" height="1.16" fill="#ffffff" fill-opacity="0.020"/>
<rect x="49.20" y="468.50" width="36.00" height="1.16" fill="#ffffff" fill-opacity="0.030"/>
<rect x="49.20" y="469.66" width="36.00" height="0.90" fill="#ffffff" fill-opacity="0.042"/>
<rect x="49.20" y="470.56" width="36.00" height="0.58" fill="#ffffff" fill-opacity="0.037"/>
<rect x="49.20" y="471.13" width="36.00" height="0.53" fill="#ffffff" fill-opacity="0.029"/>
<rect x="49.20" y="471.66" width="36.00" height="0.93" fill="#ffffff" fill-opacity="0.011"/>
<rect x="49.20" y="472.59" width="36.00" height="1.13" fill="#ffffff" fill-opacity="0.024"/>
<rect x="49.20" y="473.72" width="36.00" height="1.05" fill="#ffffff" fill-opacity="0.045"/>
<rect x="49.20" y="475.50" width="36.00" height="0.77" fill="#ffffff" fill-opacity="0.033"/>
<rect x="49.20" y="476.96" width="36.00" height="1.32" fill="#ffffff" fill-opacity="0.032"/>
<rect x="49.20" y="478.27" width="36.00" height="0.90" fill="#ffffff" fill-opacity="0.044"/>
<rect x="49.20" y="479.17" width="36.00" height="0.79" fill="#ffffff" fill-opacity="0.033"/>
<rect x="49.20" y="479.97" width="36.00" height="0.68" fill="#ffffff" fill-opacity="0.021"/>
<rect x="49.20" y="480.64" width="36.00" height="1.23" fill="#ffffff" fill-opacity="0.045"/>
<rect x="49.20" y="481.87" width="36.00" height="1.29" fill="#ffffff" fill-opacity="0.019"/>
<rect x="49.20" y="483.16" width="36.00" height="1.02" fill="#ffffff" fill-opacity="0.016"/>
<rect x="49.20" y="484.19" width="36.00" height="0.62" fill="#ffffff" fill-opacity="0.024"/>
<rect x="49.20" y="484.81" width="36.00" height="1.25" fill="#ffffff" fill-opacity="0.042"/>
<rect x="49.20" y="486.06" width="36.00" height="1.14" fill="#ffffff" fill-opacity="0.047"/>
<rect x="49.20" y="487.95" width="36.00" height="0.91" fill="#ffffff" fill-opacity="0.013"/>
<rect x="49.20" y="488.86" width="36.00" height="0.69" fill="#ffffff" fill-opacity="0.020"/>
<rect x="49.20" y="489.55" width="36.00" height="1.06" fill="#ffffff" fill-opacity="0.024"/>
<rect x="49.20" y="490.61" width="36.00" height="0.78" fill="#ffffff" fill-opacity="0.041"/>
<rect x="49.20" y="491.40" width="36.00" height="1.38" fill="#ffffff" fill-opacity="0.022"/>
<rect x="49.20" y="494.63" width="36.00" height="1.14" fill="#ffffff" fill-opacity="0.028"/>
<rect x="49.20" y="495.77" width="36.00" height="0.78" fill="#ffffff" fill-opacity="0.039"/>
<rect x="49.20" y="497.98" width="36.00" height="1.25" fill="#ffffff" fill-opacity="0.012"/>
<rect x="49.20" y="499.85" width="36.00" height="1.07" fill="#ffffff" fill-opacity="0.022"/>
<rect x="49.20" y="500.92" width="36.00" height="1.07" fill="#ffffff" fill-opacity="0.032"/>
<rect x="49.20" y="501.98" width="36.00" height="1.23" fill="#ffffff" fill-opacity="0.047"/>
<rect x="49.20" y="505.25" width="36.00" height="0.51" fill="#ffffff" fill-opacity="0.023"/>
<rect x="49.20" y="506.91" width="36.00" height="0.75" fill="#ffffff" fill-opacity="0.017"/>
<rect x="49.20" y="507.65" width="36.00" height="1.13" fill="#ffffff" fill-opacity="0.026"/>
<rect x="49.20" y="508.78" width="36.00" height="1.05" fill="#ffffff" fill-opacity="0.037"/>
<rect x="49.20" y="509.83" width="36.00" height="0.85" fill="#ffffff" fill-opacity="0.039"/>
<rect x="49.20" y="512.00" width="36.00" height="1.34" fill="#ffffff" fill-opacity="0.035"/>
<rect x="49.20" y="513.34" width="36.00" height="0.62" fill="#ffffff" fill-opacity="0.022"/>
<rect x="49.20" y="513.96" width="36.00" height="1.06" fill="#ffffff" fill-opacity="0.045"/>
<rect x="49.20" y="515.02" width="36.00" height="0.84" fill="#ffffff" fill-opacity="0.028"/>
<rect x="49.20" y="515.86" width="36.00" height="1.29" fill="#ffffff" fill-opacity="0.039"/>
<rect x="49.20" y="517.15" width="36.00" height="1.35" fill="#ffffff" fill-opacity="0.023"/>
<rect x="49.20" y="518.50" width="36.00" height="1.09" fill="#ffffff" fill-opacity="0.010"/>
<rect x="49.20" y="519.59" width="36.00" height="1.15" fill="#ffffff" fill-opacity="0.040"/>
<rect x="49.20" y="520.74" width="36.00" height="1.08" fill="#ffffff" fill-opacity="0.035"/>
<rect x="49.20" y="521.81" width="36.00" height="0.69" fill="#ffffff" fill-opacity="0.044"/>
<rect x="49.20" y="522.51" width="36.00" height="1.38" fill="#ffffff" fill-opacity="0.048"/>
<rect x="49.20" y="523.89" width="36.00" height="0.98" fill="#ffffff" fill-opacity="0.039"/>
<rect x="49.20" y="524.87" width="36.00" height="0.79" fill="#ffffff" fill-opacity="0.045"/>
<rect x="49.20" y="525.66" width="36.00" height="1.27" fill="#ffffff" fill-opacity="0.017"/>
<rect x="49.20" y="526.93" width="36.00" height="0.57" fill="#ffffff" fill-opacity="0.022"/>
<rect x="49.20" y="527.50" width="36.00" height="1.00" fill="#ffffff" fill-opacity="0.038"/>
<rect x="49.20" y="531.89" width="36.00" height="0.80" fill="#ffffff" fill-opacity="0.039"/>
<rect x="49.20" y="533.31" width="36.00" height="0.96" fill="#ffffff" fill-opacity="0.035"/>
<rect x="49.20" y="534.28" width="36.00" height="1.26" fill="#ffffff" fill-opacity="0.034"/>
<rect x="49.20" y="535.54" width="36.00" height="1.35" fill="#ffffff" fill-opacity="0.024"/>
<rect x="49.20" y="538.24" width="36.00" height="0.70" fill="#ffffff" fill-opacity="0.026"/>
<rect x="49.20" y="538.94" width="36.00" height="0.76" fill="#ffffff" fill-opacity="0.036"/>
<rect x="49.20" y="539.70" width="36.00" height="1.07" fill="#ffffff" fill-opacity="0.026"/>
<rect x="49.20" y="540.78" width="36.00" height="1.26" fill="#ffffff" fill-opacity="0.027"/>
<rect x="49.20" y="542.04" width="36.00" height="0.78" fill="#ffffff" fill-opacity="0.019"/>
<rect x="49.20" y="542.82" width="36.00" height="1.26" fill="#ffffff" fill-opacity="0.044"/>
<rect x="49.20" y="544.08" width="36.00" height="0.69" fill="#ffffff" fill-opacity="0.042"/>
<rect x="49.20" y="544.76" width="36.00" height="1.37" fill="#ffffff" fill-opacity="0.026"/>
<rect x="49.20" y="547.15" width="36.00" height="0.98" fill="#ffffff" fill-opacity="0.025"/>
<rect x="49.20" y="549.18" width="36.00" height="1.37" fill="#ffffff" fill-opacity="0.025"/>
<rect x="49.20" y="550.55" width="36.00" height="0.86" fill="#ffffff" fill-opacity="0.039"/>
<rect x="49.20" y="551.41" width="36.00" height="0.39" fill="#ffffff" fill-opacity="0.024"/>
<path d="M59.90,380.60 L60.90,384.88 L61.67,389.16 L62.27,393.44 L62.73,397.72 L63.09,402.00 L63.38,406.28 L63.60,410.56 L63.79,414.84 L63.93,419.12 L64.06,423.40 L64.17,427.68 L64.26,431.96 L64.35,436.24 L64.43,440.52 L64.50,444.80 L64.57,449.08 L64.64,453.36 L64.70,457.64 L64.76,461.92 L64.82,466.20 L64.88,470.48 L64.94,474.76 L64.99,479.04 L65.04,483.32 L65.09,487.60 L65.14,491.88 L65.19,496.16 L65.24,500.44 L65.28,504.72 L65.32,509.00 L65.37,513.28 L65.40,517.56 L65.44,521.84 L65.47,526.12 L65.50,530.40 L65.53,534.68 L65.55,538.96 L65.58,543.24 L65.59,547.52 L65.60,551.80 L69.00,551.80 L69.01,547.52 L69.02,543.24 L69.05,538.96 L69.07,534.68 L69.10,530.40 L69.13,526.12 L69.16,521.84 L69.20,517.56 L69.23,513.28 L69.28,509.00 L69.32,504.72 L69.36,500.44 L69.41,496.16 L69.46,491.88 L69.51,487.60 L69.56,483.32 L69.61,479.04 L69.66,474.76 L69.72,470.48 L69.78,466.20 L69.84,461.92 L69.90,457.64 L69.96,453.36 L70.03,449.08 L70.10,444.80 L70.17,440.52 L70.25,436.24 L70.34,431.96 L70.43,427.68 L70.54,423.40 L70.67,419.12 L70.81,414.84 L71.00,410.56 L71.22,406.28 L71.51,402.00 L71.87,397.72 L72.33,393.44 L72.93,389.16 L73.70,384.88 L74.70,380.60 Z" fill="#ffffff" fill-opacity="0.92" filter="url(#blur15)"/>
<path d="M63.05,380.60 L64.08,384.88 L64.60,389.16 L64.89,393.44 L65.05,397.72 L65.16,402.00 L65.25,406.28 L65.32,410.56 L65.39,414.84 L65.45,419.12 L65.52,423.40 L65.58,427.68 L65.64,431.96 L65.70,436.24 L65.75,440.52 L65.81,444.80 L65.87,449.08 L65.92,453.36 L65.98,457.64 L66.03,461.92 L66.08,466.20 L66.13,470.48 L66.18,474.76 L66.22,479.04 L66.27,483.32 L66.31,487.60 L66.36,491.88 L66.40,496.16 L66.44,500.44 L66.48,504.72 L66.51,509.00 L66.55,513.28 L66.58,517.56 L66.61,521.84 L66.64,526.12 L66.67,530.40 L66.69,534.68 L66.71,538.96 L66.73,543.24 L66.74,547.52 L66.75,551.80 L67.85,551.80 L67.86,547.52 L67.87,543.24 L67.89,538.96 L67.91,534.68 L67.93,530.40 L67.96,526.12 L67.99,521.84 L68.02,517.56 L68.05,513.28 L68.09,509.00 L68.12,504.72 L68.16,500.44 L68.20,496.16 L68.24,491.88 L68.29,487.60 L68.33,483.32 L68.38,479.04 L68.42,474.76 L68.47,470.48 L68.52,466.20 L68.57,461.92 L68.62,457.64 L68.68,453.36 L68.73,449.08 L68.79,444.80 L68.85,440.52 L68.90,436.24 L68.96,431.96 L69.02,427.68 L69.08,423.40 L69.15,419.12 L69.21,414.84 L69.28,410.56 L69.35,406.28 L69.44,402.00 L69.55,397.72 L69.71,393.44 L70.00,389.16 L70.52,384.88 L71.55,380.60 Z" fill="url(#redfade)" filter="url(#blur05)"/>
<rect x="63.36" y="381.60" width="7.89" height="0.88" fill="#ffffff" fill-opacity="0.11"/>
<rect x="64.07" y="384.83" width="6.46" height="0.73" fill="#ffffff" fill-opacity="0.21"/>
<rect x="64.26" y="386.04" width="6.09" height="0.78" fill="#ffffff" fill-opacity="0.18"/>
<rect x="64.51" y="388.14" width="5.58" height="0.42" fill="#ffffff" fill-opacity="0.34"/>
<rect x="64.60" y="389.07" width="5.41" height="0.89" fill="#ffffff" fill-opacity="0.18"/>
<rect x="64.76" y="391.26" width="5.07" height="0.51" fill="#ffffff" fill-opacity="0.11"/>
<rect x="64.82" y="392.17" width="4.96" height="0.87" fill="#ffffff" fill-opacity="0.19"/>
<rect x="64.94" y="394.64" width="4.72" height="0.74" fill="#ffffff" fill-opacity="0.15"/>
<rect x="65.01" y="396.52" width="4.57" height="0.45" fill="#ffffff" fill-opacity="0.29"/>
<rect x="65.07" y="398.45" width="4.45" height="0.84" fill="#ffffff" fill-opacity="0.26"/>
<rect x="65.13" y="400.61" width="4.34" height="0.46" fill="#ffffff" fill-opacity="0.16"/>
<rect x="65.15" y="401.46" width="4.30" height="0.87" fill="#ffffff" fill-opacity="0.19"/>
<rect x="65.18" y="402.76" width="4.24" height="0.67" fill="#ffffff" fill-opacity="0.27"/>
<rect x="65.21" y="404.39" width="4.18" height="0.47" fill="#ffffff" fill-opacity="0.33"/>
<rect x="65.23" y="405.23" width="4.14" height="0.91" fill="#ffffff" fill-opacity="0.34"/>
<rect x="65.27" y="407.33" width="4.07" height="0.97" fill="#ffffff" fill-opacity="0.19"/>
<rect x="65.29" y="408.87" width="4.01" height="0.68" fill="#ffffff" fill-opacity="0.26"/>
<rect x="65.32" y="410.77" width="3.95" height="0.63" fill="#ffffff" fill-opacity="0.33"/>
<rect x="65.40" y="415.65" width="3.80" height="0.94" fill="#ffffff" fill-opacity="0.24"/>
<rect x="65.42" y="416.96" width="3.76" height="0.68" fill="#ffffff" fill-opacity="0.24"/>
<rect x="65.47" y="419.95" width="3.67" height="0.95" fill="#ffffff" fill-opacity="0.32"/>
<rect x="65.52" y="423.72" width="3.56" height="0.86" fill="#ffffff" fill-opacity="0.26"/>
<rect x="65.56" y="426.72" width="3.47" height="0.47" fill="#ffffff" fill-opacity="0.14"/>
<rect x="65.62" y="430.96" width="3.35" height="0.42" fill="#ffffff" fill-opacity="0.34"/>
<rect x="65.64" y="431.96" width="3.33" height="0.70" fill="#ffffff" fill-opacity="0.13"/>
<rect x="65.67" y="434.14" width="3.27" height="0.83" fill="#ffffff" fill-opacity="0.21"/>
<rect x="65.69" y="435.85" width="3.22" height="0.56" fill="#ffffff" fill-opacity="0.29"/>
<rect x="65.70" y="436.84" width="3.19" height="0.77" fill="#ffffff" fill-opacity="0.10"/>
<rect x="65.76" y="440.84" width="3.08" height="0.45" fill="#ffffff" fill-opacity="0.31"/>
<rect x="65.78" y="442.20" width="3.05" height="0.81" fill="#ffffff" fill-opacity="0.27"/>
<rect x="65.79" y="443.51" width="3.01" height="0.97" fill="#ffffff" fill-opacity="0.13"/>
<rect x="65.82" y="445.33" width="2.96" height="0.69" fill="#ffffff" fill-opacity="0.24"/>
<rect x="65.84" y="447.25" width="2.91" height="0.52" fill="#ffffff" fill-opacity="0.29"/>
<rect x="65.86" y="448.58" width="2.88" height="0.55" fill="#ffffff" fill-opacity="0.30"/>
<rect x="65.88" y="450.47" width="2.83" height="0.91" fill="#ffffff" fill-opacity="0.11"/>
<rect x="65.91" y="452.79" width="2.77" height="0.87" fill="#ffffff" fill-opacity="0.34"/>
<rect x="65.94" y="454.86" width="2.72" height="1.00" fill="#ffffff" fill-opacity="0.17"/>
<rect x="65.97" y="457.06" width="2.66" height="0.87" fill="#ffffff" fill-opacity="0.18"/>
<rect x="65.99" y="458.83" width="2.62" height="0.64" fill="#ffffff" fill-opacity="0.30"/>
<rect x="66.01" y="460.22" width="2.59" height="0.85" fill="#ffffff" fill-opacity="0.20"/>
<rect x="66.05" y="463.92" width="2.50" height="0.49" fill="#ffffff" fill-opacity="0.13"/>
<rect x="66.07" y="465.64" width="2.46" height="0.43" fill="#ffffff" fill-opacity="0.32"/>
<rect x="66.09" y="467.08" width="2.42" height="0.74" fill="#ffffff" fill-opacity="0.24"/>
<rect x="66.10" y="468.18" width="2.40" height="0.41" fill="#ffffff" fill-opacity="0.25"/>
<rect x="66.12" y="469.60" width="2.36" height="0.78" fill="#ffffff" fill-opacity="0.29"/>
<rect x="66.13" y="471.01" width="2.33" height="0.50" fill="#ffffff" fill-opacity="0.34"/>
<rect x="66.14" y="471.88" width="2.31" height="0.71" fill="#ffffff" fill-opacity="0.22"/>
<rect x="66.17" y="474.03" width="2.26" height="0.45" fill="#ffffff" fill-opacity="0.25"/>
<rect x="66.18" y="474.88" width="2.24" height="0.67" fill="#ffffff" fill-opacity="0.22"/>
<rect x="66.20" y="476.87" width="2.20" height="0.43" fill="#ffffff" fill-opacity="0.26"/>
<rect x="66.21" y="477.78" width="2.18" height="0.64" fill="#ffffff" fill-opacity="0.34"/>
<rect x="66.26" y="482.63" width="2.08" height="0.88" fill="#ffffff" fill-opacity="0.29"/>
<rect x="66.29" y="484.94" width="2.03" height="0.78" fill="#ffffff" fill-opacity="0.29"/>
<rect x="66.32" y="488.44" width="1.96" height="0.99" fill="#ffffff" fill-opacity="0.14"/>
<rect x="66.34" y="490.59" width="1.91" height="0.51" fill="#ffffff" fill-opacity="0.17"/>
<rect x="66.36" y="492.04" width="1.88" height="0.86" fill="#ffffff" fill-opacity="0.11"/>
<rect x="66.38" y="493.77" width="1.85" height="0.51" fill="#ffffff" fill-opacity="0.20"/>
<rect x="66.39" y="495.71" width="1.81" height="0.63" fill="#ffffff" fill-opacity="0.23"/>
<rect x="66.41" y="497.31" width="1.78" height="0.52" fill="#ffffff" fill-opacity="0.24"/>
<rect x="66.42" y="498.38" width="1.76" height="0.77" fill="#ffffff" fill-opacity="0.35"/>
<rect x="66.43" y="499.82" width="1.74" height="0.80" fill="#ffffff" fill-opacity="0.12"/>
<rect x="89.20" y="380.60" width="34.90" height="171.20" fill="#2424f2" />
<rect x="89.20" y="380.60" width="34.90" height="6.00" fill="url(#topL2)" />
<rect x="89.20" y="380.60" width="34.90" height="0.93" fill="#ffffff" fill-opacity="0.039"/>
<rect x="89.20" y="382.63" width="34.90" height="0.51" fill="#ffffff" fill-opacity="0.022"/>
<rect x="89.20" y="383.14" width="34.90" height="0.75" fill="#ffffff" fill-opacity="0.047"/>
<rect x="89.20" y="383.88" width="34.90" height="1.12" fill="#ffffff" fill-opacity="0.035"/>
<rect x="89.20" y="385.00" width="34.90" height="1.00" fill="#ffffff" fill-opacity="0.038"/>
<rect x="89.20" y="386.01" width="34.90" height="0.63" fill="#ffffff" fill-opacity="0.025"/>
<rect x="89.20" y="386.64" width="34.90" height="0.65" fill="#ffffff" fill-opacity="0.051"/>
<rect x="89.20" y="387.28" width="34.90" height="0.55" fill="#ffffff" fill-opacity="0.046"/>
<rect x="89.20" y="387.84" width="34.90" height="0.57" fill="#ffffff" fill-opacity="0.038"/>
<rect x="89.20" y="388.40" width="34.90" height="0.80" fill="#ffffff" fill-opacity="0.022"/>
<rect x="89.20" y="390.47" width="34.90" height="0.55" fill="#ffffff" fill-opacity="0.049"/>
<rect x="89.20" y="391.98" width="34.90" height="1.39" fill="#ffffff" fill-opacity="0.050"/>
<rect x="89.20" y="393.37" width="34.90" height="0.60" fill="#ffffff" fill-opacity="0.022"/>
<rect x="89.20" y="393.97" width="34.90" height="0.62" fill="#ffffff" fill-opacity="0.016"/>
<rect x="89.20" y="396.78" width="34.90" height="0.65" fill="#ffffff" fill-opacity="0.040"/>
<rect x="89.20" y="397.43" width="34.90" height="0.86" fill="#ffffff" fill-opacity="0.021"/>
<rect x="89.20" y="398.29" width="34.90" height="1.04" fill="#ffffff" fill-opacity="0.023"/>
<rect x="89.20" y="400.17" width="34.90" height="1.15" fill="#ffffff" fill-opacity="0.046"/>
<rect x="89.20" y="401.33" width="34.90" height="1.38" fill="#ffffff" fill-opacity="0.031"/>
<rect x="89.20" y="402.71" width="34.90" height="0.82" fill="#ffffff" fill-opacity="0.017"/>
<rect x="89.20" y="403.53" width="34.90" height="1.12" fill="#ffffff" fill-opacity="0.030"/>
<rect x="89.20" y="404.65" width="34.90" height="0.60" fill="#ffffff" fill-opacity="0.010"/>
<rect x="89.20" y="405.25" width="34.90" height="0.83" fill="#ffffff" fill-opacity="0.022"/>
<rect x="89.20" y="406.08" width="34.90" height="1.23" fill="#ffffff" fill-opacity="0.022"/>
<rect x="89.20" y="407.31" width="34.90" height="0.53" fill="#ffffff" fill-opacity="0.035"/>
<rect x="89.20" y="407.83" width="34.90" height="0.89" fill="#ffffff" fill-opacity="0.022"/>
<rect x="89.20" y="408.72" width="34.90" height="0.70" fill="#ffffff" fill-opacity="0.018"/>
<rect x="89.20" y="409.42" width="34.90" height="0.85" fill="#ffffff" fill-opacity="0.032"/>
<rect x="89.20" y="410.27" width="34.90" height="0.59" fill="#ffffff" fill-opacity="0.022"/>
<rect x="89.20" y="410.86" width="34.90" height="0.66" fill="#ffffff" fill-opacity="0.028"/>
<rect x="89.20" y="411.52" width="34.90" height="0.53" fill="#ffffff" fill-opacity="0.011"/>
<rect x="89.20" y="412.05" width="34.90" height="0.81" fill="#ffffff" fill-opacity="0.025"/>
<rect x="89.20" y="412.86" width="34.90" height="0.55" fill="#ffffff" fill-opacity="0.018"/>
<rect x="89.20" y="413.41" width="34.90" height="0.69" fill="#ffffff" fill-opacity="0.011"/>
<rect x="89.20" y="414.10" width="34.90" height="0.93" fill="#ffffff" fill-opacity="0.037"/>
<rect x="89.20" y="415.03" width="34.90" height="0.93" fill="#ffffff" fill-opacity="0.036"/>
<rect x="89.20" y="415.96" width="34.90" height="0.65" fill="#ffffff" fill-opacity="0.034"/>
<rect x="89.20" y="417.44" width="34.90" height="1.17" fill="#ffffff" fill-opacity="0.033"/>
<rect x="89.20" y="419.12" width="34.90" height="1.19" fill="#ffffff" fill-opacity="0.012"/>
<rect x="89.20" y="421.03" width="34.90" height="0.54" fill="#ffffff" fill-opacity="0.021"/>
<rect x="89.20" y="421.56" width="34.90" height="1.39" fill="#ffffff" fill-opacity="0.033"/>
<rect x="89.20" y="423.90" width="34.90" height="0.79" fill="#ffffff" fill-opacity="0.025"/>
<rect x="89.20" y="424.69" width="34.90" height="1.25" fill="#ffffff" fill-opacity="0.020"/>
<rect x="89.20" y="425.94" width="34.90" height="0.71" fill="#ffffff" fill-opacity="0.016"/>
<rect x="89.20" y="426.65" width="34.90" height="0.93" fill="#ffffff" fill-opacity="0.019"/>
<rect x="89.20" y="427.58" width="34.90" height="0.74" fill="#ffffff" fill-opacity="0.028"/>
<rect x="89.20" y="429.62" width="34.90" height="0.76" fill="#ffffff" fill-opacity="0.025"/>
<rect x="89.20" y="430.38" width="34.90" height="0.75" fill="#ffffff" fill-opacity="0.026"/>
<rect x="89.20" y="431.13" width="34.90" height="0.96" fill="#ffffff" fill-opacity="0.019"/>
<rect x="89.20" y="433.99" width="34.90" height="1.11" fill="#ffffff" fill-opacity="0.018"/>
<rect x="89.20" y="435.10" width="34.90" height="0.62" fill="#ffffff" fill-opacity="0.022"/>
<rect x="89.20" y="436.60" width="34.90" height="0.89" fill="#ffffff" fill-opacity="0.023"/>
<rect x="89.20" y="437.49" width="34.90" height="1.00" fill="#ffffff" fill-opacity="0.014"/>
<rect x="89.20" y="438.49" width="34.90" height="1.33" fill="#ffffff" fill-opacity="0.022"/>
<rect x="89.20" y="441.01" width="34.90" height="1.03" fill="#ffffff" fill-opacity="0.019"/>
<rect x="89.20" y="442.04" width="34.90" height="1.21" fill="#ffffff" fill-opacity="0.012"/>
<rect x="89.20" y="444.06" width="34.90" height="1.16" fill="#ffffff" fill-opacity="0.012"/>
<rect x="89.20" y="445.22" width="34.90" height="0.52" fill="#ffffff" fill-opacity="0.015"/>
<rect x="89.20" y="445.74" width="34.90" height="1.31" fill="#ffffff" fill-opacity="0.017"/>
<rect x="89.20" y="447.05" width="34.90" height="1.31" fill="#ffffff" fill-opacity="0.019"/>
<rect x="89.20" y="448.36" width="34.90" height="0.98" fill="#ffffff" fill-opacity="0.017"/>
<rect x="89.20" y="451.00" width="34.90" height="1.34" fill="#ffffff" fill-opacity="0.014"/>
<rect x="89.20" y="452.34" width="34.90" height="0.99" fill="#ffffff" fill-opacity="0.013"/>
<rect x="89.20" y="453.33" width="34.90" height="0.61" fill="#ffffff" fill-opacity="0.011"/>
<rect x="89.20" y="455.79" width="34.90" height="0.79" fill="#ffffff" fill-opacity="0.014"/>
<rect x="89.20" y="457.21" width="34.90" height="0.78" fill="#ffffff" fill-opacity="0.015"/>
<rect x="89.20" y="457.99" width="34.90" height="1.18" fill="#ffffff" fill-opacity="0.014"/>
<rect x="89.20" y="460.52" width="34.90" height="0.53" fill="#ffffff" fill-opacity="0.010"/>
<rect x="89.20" y="466.61" width="34.90" height="0.70" fill="#ffffff" fill-opacity="0.019"/>
<rect x="89.20" y="467.31" width="34.90" height="0.95" fill="#ffffff" fill-opacity="0.015"/>
<rect x="89.20" y="468.91" width="34.90" height="1.05" fill="#ffffff" fill-opacity="0.018"/>
<rect x="89.20" y="470.68" width="34.90" height="1.27" fill="#ffffff" fill-opacity="0.017"/>
<rect x="89.20" y="471.95" width="34.90" height="0.70" fill="#ffffff" fill-opacity="0.011"/>
<rect x="89.20" y="473.84" width="34.90" height="1.11" fill="#ffffff" fill-opacity="0.014"/>
<rect x="89.20" y="474.94" width="34.90" height="1.38" fill="#ffffff" fill-opacity="0.012"/>
<rect x="89.20" y="480.32" width="34.90" height="0.70" fill="#ffffff" fill-opacity="0.011"/>
<rect x="89.20" y="482.97" width="34.90" height="1.34" fill="#ffffff" fill-opacity="0.013"/>
<rect x="89.20" y="484.31" width="34.90" height="0.85" fill="#ffffff" fill-opacity="0.018"/>
<rect x="89.20" y="486.47" width="34.90" height="0.61" fill="#ffffff" fill-opacity="0.013"/>
<rect x="89.20" y="487.08" width="34.90" height="1.26" fill="#ffffff" fill-opacity="0.013"/>
<rect x="89.20" y="494.23" width="34.90" height="1.37" fill="#ffffff" fill-opacity="0.011"/>
<rect x="89.20" y="495.60" width="34.90" height="0.55" fill="#ffffff" fill-opacity="0.018"/>
<rect x="89.20" y="496.15" width="34.90" height="1.29" fill="#ffffff" fill-opacity="0.017"/>
<rect x="89.20" y="497.44" width="34.90" height="0.82" fill="#ffffff" fill-opacity="0.015"/>
<rect x="89.20" y="499.03" width="34.90" height="1.28" fill="#ffffff" fill-opacity="0.017"/>
<rect x="89.20" y="500.31" width="34.90" height="0.69" fill="#ffffff" fill-opacity="0.018"/>
<rect x="89.20" y="502.04" width="34.90" height="0.65" fill="#ffffff" fill-opacity="0.015"/>
<rect x="89.20" y="504.12" width="34.90" height="1.28" fill="#ffffff" fill-opacity="0.013"/>
<rect x="89.20" y="505.39" width="34.90" height="0.59" fill="#ffffff" fill-opacity="0.014"/>
<rect x="89.20" y="506.97" width="34.90" height="0.97" fill="#ffffff" fill-opacity="0.014"/>
<rect x="89.20" y="507.94" width="34.90" height="1.22" fill="#ffffff" fill-opacity="0.011"/>
<rect x="89.20" y="511.30" width="34.90" height="0.87" fill="#ffffff" fill-opacity="0.011"/>
<rect x="89.20" y="513.32" width="34.90" height="1.33" fill="#ffffff" fill-opacity="0.010"/>
<rect x="89.20" y="514.65" width="34.90" height="1.27" fill="#ffffff" fill-opacity="0.014"/>
<rect x="89.20" y="515.92" width="34.90" height="1.36" fill="#ffffff" fill-opacity="0.014"/>
<rect x="89.20" y="518.17" width="34.90" height="1.05" fill="#ffffff" fill-opacity="0.016"/>
<rect x="89.20" y="522.11" width="34.90" height="0.60" fill="#ffffff" fill-opacity="0.014"/>
<rect x="89.20" y="522.71" width="34.90" height="1.05" fill="#ffffff" fill-opacity="0.020"/>
<rect x="89.20" y="523.77" width="34.90" height="1.36" fill="#ffffff" fill-opacity="0.016"/>
<rect x="89.20" y="526.48" width="34.90" height="0.71" fill="#ffffff" fill-opacity="0.019"/>
<rect x="89.20" y="531.01" width="34.90" height="1.05" fill="#ffffff" fill-opacity="0.020"/>
<rect x="89.20" y="532.05" width="34.90" height="1.39" fill="#ffffff" fill-opacity="0.016"/>
<rect x="89.20" y="534.78" width="34.90" height="0.77" fill="#ffffff" fill-opacity="0.019"/>
<rect x="89.20" y="535.55" width="34.90" height="1.04" fill="#ffffff" fill-opacity="0.014"/>
<rect x="89.20" y="537.10" width="34.90" height="0.93" fill="#ffffff" fill-opacity="0.015"/>
<rect x="89.20" y="538.03" width="34.90" height="1.24" fill="#ffffff" fill-opacity="0.016"/>
<rect x="89.20" y="540.08" width="34.90" height="1.28" fill="#ffffff" fill-opacity="0.021"/>
<rect x="89.20" y="542.30" width="34.90" height="1.06" fill="#ffffff" fill-opacity="0.011"/>
<rect x="89.20" y="544.18" width="34.90" height="0.85" fill="#ffffff" fill-opacity="0.013"/>
<rect x="89.20" y="545.03" width="34.90" height="0.61" fill="#ffffff" fill-opacity="0.011"/>
<rect x="89.20" y="545.64" width="34.90" height="1.36" fill="#ffffff" fill-opacity="0.016"/>
<rect x="89.20" y="547.73" width="34.90" height="0.59" fill="#ffffff" fill-opacity="0.015"/>
<rect x="89.20" y="549.39" width="34.90" height="0.99" fill="#ffffff" fill-opacity="0.013"/>
<rect x="105.3" y="380.6" width="3.0" height="171.19999999999993" fill="url(#cl2)" filter="url(#blur05)"/>
<rect x="49.20" y="552.90" width="36.00" height="20.70" fill="#2424f2" />
<rect x="49.2" y="552.9" width="36.0" height="20.700000000000045" fill="url(#topL2)" opacity="0.89"/>
<rect x="49.20" y="552.90" width="36.00" height="0.57" fill="#ffffff" fill-opacity="0.077"/>
<rect x="49.20" y="553.47" width="36.00" height="1.37" fill="#ffffff" fill-opacity="0.041"/>
<rect x="49.20" y="554.84" width="36.00" height="1.35" fill="#ffffff" fill-opacity="0.040"/>
<rect x="49.20" y="556.19" width="36.00" height="1.06" fill="#ffffff" fill-opacity="0.082"/>
<rect x="49.20" y="558.59" width="36.00" height="0.90" fill="#ffffff" fill-opacity="0.010"/>
<rect x="49.20" y="559.49" width="36.00" height="0.59" fill="#ffffff" fill-opacity="0.024"/>
<rect x="49.20" y="560.08" width="36.00" height="0.86" fill="#ffffff" fill-opacity="0.068"/>
<rect x="49.20" y="560.94" width="36.00" height="0.51" fill="#ffffff" fill-opacity="0.048"/>
<rect x="49.20" y="561.45" width="36.00" height="1.32" fill="#ffffff" fill-opacity="0.053"/>
<rect x="49.20" y="562.76" width="36.00" height="0.64" fill="#ffffff" fill-opacity="0.010"/>
<rect x="49.20" y="564.24" width="36.00" height="1.37" fill="#ffffff" fill-opacity="0.048"/>
<rect x="49.20" y="565.62" width="36.00" height="1.23" fill="#ffffff" fill-opacity="0.038"/>
<rect x="49.20" y="566.84" width="36.00" height="1.39" fill="#ffffff" fill-opacity="0.021"/>
<rect x="49.20" y="568.23" width="36.00" height="0.54" fill="#ffffff" fill-opacity="0.018"/>
<rect x="49.20" y="568.77" width="36.00" height="0.89" fill="#ffffff" fill-opacity="0.039"/>
<rect x="49.20" y="569.66" width="36.00" height="0.50" fill="#ffffff" fill-opacity="0.039"/>
<rect x="49.20" y="570.98" width="36.00" height="1.04" fill="#ffffff" fill-opacity="0.036"/>
<rect x="49.20" y="572.02" width="36.00" height="1.05" fill="#ffffff" fill-opacity="0.028"/>
<rect x="49.20" y="573.07" width="36.00" height="0.53" fill="#ffffff" fill-opacity="0.014"/>
<path d="M60.80,552.90 L61.01,553.41 L61.23,553.92 L61.43,554.43 L61.64,554.94 L61.84,555.45 L62.04,555.96 L62.23,556.47 L62.42,556.98 L62.61,557.49 L62.79,558.00 L62.97,558.51 L63.15,559.02 L63.32,559.53 L63.49,560.04 L63.65,560.55 L63.82,561.06 L63.97,561.57 L64.13,562.08 L64.27,562.59 L64.42,563.10 L64.56,563.61 L64.70,564.12 L64.83,564.63 L64.95,565.14 L65.08,565.65 L65.19,566.16 L65.31,566.67 L65.41,567.18 L65.52,567.69 L65.61,568.20 L65.70,568.71 L65.79,569.22 L65.87,569.73 L65.94,570.24 L66.01,570.75 L66.06,571.26 L66.11,571.77 L66.16,572.28 L66.19,572.79 L66.20,573.30 L68.60,573.30 L68.61,572.79 L68.64,572.28 L68.69,571.77 L68.74,571.26 L68.79,570.75 L68.86,570.24 L68.93,569.73 L69.01,569.22 L69.10,568.71 L69.19,568.20 L69.28,567.69 L69.39,567.18 L69.49,566.67 L69.61,566.16 L69.72,565.65 L69.85,565.14 L69.97,564.63 L70.10,564.12 L70.24,563.61 L70.38,563.10 L70.53,562.59 L70.67,562.08 L70.83,561.57 L70.98,561.06 L71.15,560.55 L71.31,560.04 L71.48,559.53 L71.65,559.02 L71.83,558.51 L72.01,558.00 L72.19,557.49 L72.38,556.98 L72.57,556.47 L72.76,555.96 L72.96,555.45 L73.16,554.94 L73.37,554.43 L73.57,553.92 L73.79,553.41 L74.00,552.90 Z" fill="#ffffff" fill-opacity="0.9" filter="url(#blur1)"/>
<path d="M62.95,552.90 L63.12,553.39 L63.29,553.88 L63.45,554.38 L63.62,554.87 L63.78,555.36 L63.93,555.86 L64.09,556.35 L64.24,556.84 L64.39,557.33 L64.54,557.83 L64.68,558.32 L64.82,558.81 L64.96,559.30 L65.09,559.79 L65.22,560.29 L65.35,560.78 L65.48,561.27 L65.60,561.76 L65.72,562.26 L65.83,562.75 L65.94,563.24 L66.05,563.74 L66.16,564.23 L66.26,564.72 L66.35,565.21 L66.45,565.71 L66.54,566.20 L66.62,566.69 L66.70,567.18 L66.78,567.67 L66.85,568.17 L66.92,568.66 L66.99,569.15 L67.04,569.64 L67.10,570.14 L67.14,570.63 L67.18,571.12 L67.21,571.62 L67.24,572.11 L67.25,572.60 L67.55,572.60 L67.56,572.11 L67.59,571.62 L67.62,571.12 L67.66,570.63 L67.70,570.14 L67.76,569.64 L67.81,569.15 L67.88,568.66 L67.95,568.17 L68.02,567.67 L68.10,567.18 L68.18,566.69 L68.26,566.20 L68.35,565.71 L68.45,565.21 L68.54,564.72 L68.64,564.23 L68.75,563.74 L68.86,563.24 L68.97,562.75 L69.08,562.26 L69.20,561.76 L69.32,561.27 L69.45,560.78 L69.58,560.29 L69.71,559.79 L69.84,559.30 L69.98,558.81 L70.12,558.32 L70.26,557.83 L70.41,557.33 L70.56,556.84 L70.71,556.35 L70.87,555.86 L71.02,555.36 L71.18,554.87 L71.35,554.38 L71.51,553.88 L71.68,553.39 L71.85,552.90 Z" fill="#f23434" filter="url(#blur05)"/>
<rect x="89.20" y="552.90" width="34.90" height="20.70" fill="#2424f2" />
<rect x="89.2" y="552.9" width="34.89999999999999" height="20.700000000000045" fill="url(#topL2)" opacity="0.56"/>
<rect x="89.20" y="552.90" width="34.90" height="1.14" fill="#ffffff" fill-opacity="0.090"/>
<rect x="89.20" y="554.04" width="34.90" height="0.52" fill="#ffffff" fill-opacity="0.091"/>
<rect x="89.20" y="555.79" width="34.90" height="1.23" fill="#ffffff" fill-opacity="0.073"/>
<rect x="89.20" y="557.02" width="34.90" height="0.67" fill="#ffffff" fill-opacity="0.084"/>
<rect x="89.20" y="557.69" width="34.90" height="0.83" fill="#ffffff" fill-opacity="0.038"/>
<rect x="89.20" y="558.52" width="34.90" height="1.09" fill="#ffffff" fill-opacity="0.056"/>
<rect x="89.20" y="559.60" width="34.90" height="1.17" fill="#ffffff" fill-opacity="0.022"/>
<rect x="89.20" y="560.78" width="34.90" height="0.94" fill="#ffffff" fill-opacity="0.010"/>
<rect x="89.20" y="561.71" width="34.90" height="0.75" fill="#ffffff" fill-opacity="0.035"/>
<rect x="89.20" y="562.46" width="34.90" height="0.57" fill="#ffffff" fill-opacity="0.024"/>
<rect x="89.20" y="563.03" width="34.90" height="1.23" fill="#ffffff" fill-opacity="0.012"/>
<rect x="89.20" y="566.31" width="34.90" height="0.66" fill="#ffffff" fill-opacity="0.042"/>
<rect x="89.20" y="566.98" width="34.90" height="0.90" fill="#ffffff" fill-opacity="0.030"/>
<rect x="89.20" y="567.88" width="34.90" height="1.05" fill="#ffffff" fill-opacity="0.025"/>
<rect x="89.20" y="570.43" width="34.90" height="0.72" fill="#ffffff" fill-opacity="0.014"/>
<rect x="89.20" y="573.07" width="34.90" height="0.53" fill="#ffffff" fill-opacity="0.029"/>
<path d="M102.20,552.90 L102.33,553.41 L102.47,553.92 L102.60,554.43 L102.73,554.94 L102.85,555.45 L102.98,555.96 L103.10,556.47 L103.22,556.98 L103.34,557.49 L103.45,558.00 L103.57,558.51 L103.68,559.02 L103.79,559.53 L103.89,560.04 L104.00,560.55 L104.10,561.06 L104.20,561.57 L104.29,562.08 L104.39,562.59 L104.48,563.10 L104.57,563.61 L104.65,564.12 L104.74,564.63 L104.82,565.14 L104.89,565.65 L104.97,566.16 L105.04,566.67 L105.10,567.18 L105.17,567.69 L105.23,568.20 L105.29,568.71 L105.34,569.22 L105.39,569.73 L105.44,570.24 L105.48,570.75 L105.51,571.26 L105.55,571.77 L105.57,572.28 L105.59,572.79 L105.60,573.30 L108.00,573.30 L108.01,572.79 L108.03,572.28 L108.05,571.77 L108.09,571.26 L108.12,570.75 L108.16,570.24 L108.21,569.73 L108.26,569.22 L108.31,568.71 L108.37,568.20 L108.43,567.69 L108.50,567.18 L108.56,566.67 L108.63,566.16 L108.71,565.65 L108.78,565.14 L108.86,564.63 L108.95,564.12 L109.03,563.61 L109.12,563.10 L109.21,562.59 L109.31,562.08 L109.40,561.57 L109.50,561.06 L109.60,560.55 L109.71,560.04 L109.81,559.53 L109.92,559.02 L110.03,558.51 L110.15,558.00 L110.26,557.49 L110.38,556.98 L110.50,556.47 L110.62,555.96 L110.75,555.45 L110.87,554.94 L111.00,554.43 L111.13,553.92 L111.27,553.41 L111.40,552.90 Z" fill="#ffffff" fill-opacity="0.9" filter="url(#blur1)"/>
<path d="M104.05,552.90 L104.15,553.39 L104.25,553.88 L104.35,554.38 L104.45,554.87 L104.55,555.36 L104.65,555.86 L104.74,556.35 L104.83,556.84 L104.92,557.33 L105.01,557.83 L105.10,558.32 L105.18,558.81 L105.26,559.30 L105.34,559.79 L105.42,560.29 L105.50,560.78 L105.58,561.27 L105.65,561.76 L105.72,562.26 L105.79,562.75 L105.86,563.24 L105.93,563.74 L105.99,564.23 L106.05,564.72 L106.11,565.21 L106.17,565.71 L106.22,566.20 L106.27,566.69 L106.32,567.18 L106.37,567.67 L106.41,568.17 L106.45,568.66 L106.49,569.15 L106.53,569.64 L106.56,570.14 L106.58,570.63 L106.61,571.12 L106.63,571.62 L106.64,572.11 L106.65,572.60 L106.95,572.60 L106.96,572.11 L106.97,571.62 L106.99,571.12 L107.02,570.63 L107.04,570.14 L107.07,569.64 L107.11,569.15 L107.15,568.66 L107.19,568.17 L107.23,567.67 L107.28,567.18 L107.33,566.69 L107.38,566.20 L107.43,565.71 L107.49,565.21 L107.55,564.72 L107.61,564.23 L107.67,563.74 L107.74,563.24 L107.81,562.75 L107.88,562.26 L107.95,561.76 L108.02,561.27 L108.10,560.78 L108.18,560.29 L108.26,559.79 L108.34,559.30 L108.42,558.81 L108.50,558.32 L108.59,557.83 L108.68,557.33 L108.77,556.84 L108.86,556.35 L108.95,555.86 L109.05,555.36 L109.15,554.87 L109.25,554.38 L109.35,553.88 L109.45,553.39 L109.55,552.90 Z" fill="#f23434" filter="url(#blur05)"/>
<rect x="49.20" y="574.70" width="36.00" height="32.80" fill="#2626f6" />
<rect x="66.1" y="574.7" width="2.4" height="32.799999999999955" fill="#ffffff" fill-opacity="0.12" filter="url(#blur05)"/>
<rect x="89.20" y="574.70" width="34.90" height="32.80" fill="#2424f2" />
<rect x="89.20" y="574.70" width="34.90" height="32.80" fill="url(#topL2)" />
<rect x="89.20" y="574.70" width="34.90" height="0.65" fill="#ffffff" fill-opacity="0.069"/>
<rect x="89.20" y="575.35" width="34.90" height="1.07" fill="#ffffff" fill-opacity="0.047"/>
<rect x="89.20" y="576.42" width="34.90" height="0.69" fill="#ffffff" fill-opacity="0.076"/>
<rect x="89.20" y="577.11" width="34.90" height="1.23" fill="#ffffff" fill-opacity="0.049"/>
<rect x="89.20" y="578.34" width="34.90" height="0.95" fill="#ffffff" fill-opacity="0.022"/>
<rect x="89.20" y="579.30" width="34.90" height="0.50" fill="#ffffff" fill-opacity="0.033"/>
<rect x="89.20" y="580.83" width="34.90" height="1.21" fill="#ffffff" fill-opacity="0.020"/>
<rect x="89.20" y="582.75" width="34.90" height="1.40" fill="#ffffff" fill-opacity="0.061"/>
<rect x="89.20" y="584.15" width="34.90" height="1.29" fill="#ffffff" fill-opacity="0.049"/>
<rect x="89.20" y="585.43" width="34.90" height="0.53" fill="#ffffff" fill-opacity="0.025"/>
<rect x="89.20" y="586.91" width="34.90" height="1.36" fill="#ffffff" fill-opacity="0.027"/>
<rect x="89.20" y="588.27" width="34.90" height="0.64" fill="#ffffff" fill-opacity="0.058"/>
<rect x="89.20" y="588.91" width="34.90" height="0.61" fill="#ffffff" fill-opacity="0.064"/>
<rect x="89.20" y="589.52" width="34.90" height="0.91" fill="#ffffff" fill-opacity="0.037"/>
<rect x="89.20" y="590.43" width="34.90" height="0.81" fill="#ffffff" fill-opacity="0.032"/>
<rect x="89.20" y="591.91" width="34.90" height="1.28" fill="#ffffff" fill-opacity="0.015"/>
<rect x="89.20" y="593.19" width="34.90" height="1.20" fill="#ffffff" fill-opacity="0.013"/>
<rect x="89.20" y="594.39" width="34.90" height="1.37" fill="#ffffff" fill-opacity="0.051"/>
<rect x="89.20" y="595.76" width="34.90" height="1.18" fill="#ffffff" fill-opacity="0.041"/>
<rect x="89.20" y="596.94" width="34.90" height="1.02" fill="#ffffff" fill-opacity="0.038"/>
<rect x="89.20" y="597.96" width="34.90" height="0.61" fill="#ffffff" fill-opacity="0.024"/>
<rect x="89.20" y="599.82" width="34.90" height="1.33" fill="#ffffff" fill-opacity="0.040"/>
<rect x="89.20" y="601.15" width="34.90" height="0.87" fill="#ffffff" fill-opacity="0.016"/>
<rect x="89.20" y="602.02" width="34.90" height="0.91" fill="#ffffff" fill-opacity="0.016"/>
<rect x="89.20" y="602.92" width="34.90" height="1.40" fill="#ffffff" fill-opacity="0.015"/>
<rect x="89.20" y="604.84" width="34.90" height="1.15" fill="#ffffff" fill-opacity="0.035"/>
<rect x="89.20" y="605.99" width="34.90" height="0.95" fill="#ffffff" fill-opacity="0.017"/>
<rect x="89.20" y="606.93" width="34.90" height="0.57" fill="#ffffff" fill-opacity="0.026"/>
<path d="M102.00,574.70 L102.16,575.52 L102.32,576.34 L102.47,577.16 L102.62,577.98 L102.77,578.80 L102.91,579.62 L103.05,580.44 L103.19,581.26 L103.32,582.08 L103.46,582.90 L103.58,583.72 L103.71,584.54 L103.83,585.36 L103.94,586.18 L104.06,587.00 L104.16,587.82 L104.27,588.64 L104.37,589.46 L104.47,590.28 L104.57,591.10 L104.66,591.92 L104.74,592.74 L104.83,593.56 L104.91,594.38 L104.98,595.20 L105.06,596.02 L105.12,596.84 L105.19,597.66 L105.25,598.48 L105.30,599.30 L105.35,600.12 L105.40,600.94 L105.44,601.76 L105.48,602.58 L105.51,603.40 L105.54,604.22 L105.57,605.04 L105.58,605.86 L105.60,606.68 L105.60,607.50 L108.00,607.50 L108.00,606.68 L108.02,605.86 L108.03,605.04 L108.06,604.22 L108.09,603.40 L108.12,602.58 L108.16,601.76 L108.20,600.94 L108.25,600.12 L108.30,599.30 L108.35,598.48 L108.41,597.66 L108.48,596.84 L108.54,596.02 L108.62,595.20 L108.69,594.38 L108.77,593.56 L108.86,592.74 L108.94,591.92 L109.03,591.10 L109.13,590.28 L109.23,589.46 L109.33,588.64 L109.44,587.82 L109.54,587.00 L109.66,586.18 L109.77,585.36 L109.89,584.54 L110.02,583.72 L110.14,582.90 L110.28,582.08 L110.41,581.26 L110.55,580.44 L110.69,579.62 L110.83,578.80 L110.98,577.98 L111.13,577.16 L111.28,576.34 L111.44,575.52 L111.60,574.70 Z" fill="#ffffff" fill-opacity="0.9" filter="url(#blur1)"/>
<path d="M104.40,574.70 L104.47,575.51 L104.54,576.32 L104.61,577.12 L104.67,577.93 L104.74,578.74 L104.81,579.55 L104.87,580.35 L104.94,581.16 L105.00,581.97 L105.06,582.78 L105.13,583.58 L105.19,584.39 L105.25,585.20 L105.31,586.00 L105.36,586.81 L105.42,587.62 L105.48,588.43 L105.53,589.24 L105.59,590.04 L105.64,590.85 L105.69,591.66 L105.75,592.47 L105.80,593.27 L105.85,594.08 L105.89,594.89 L105.94,595.70 L105.99,596.50 L106.03,597.31 L106.07,598.12 L106.11,598.92 L106.15,599.73 L106.19,600.54 L106.23,601.35 L106.26,602.15 L106.29,602.96 L106.32,603.77 L106.35,604.58 L106.37,605.38 L106.39,606.19 L106.40,607.00 L107.20,607.00 L107.21,606.19 L107.23,605.38 L107.25,604.58 L107.28,603.77 L107.31,602.96 L107.34,602.15 L107.37,601.35 L107.41,600.54 L107.45,599.73 L107.49,598.92 L107.53,598.12 L107.57,597.31 L107.61,596.50 L107.66,595.70 L107.71,594.89 L107.75,594.08 L107.80,593.27 L107.85,592.47 L107.91,591.66 L107.96,590.85 L108.01,590.04 L108.07,589.24 L108.12,588.43 L108.18,587.62 L108.24,586.81 L108.29,586.00 L108.35,585.20 L108.41,584.39 L108.47,583.58 L108.54,582.78 L108.60,581.97 L108.66,581.16 L108.73,580.35 L108.79,579.55 L108.86,578.74 L108.93,577.93 L108.99,577.12 L109.06,576.32 L109.13,575.51 L109.20,574.70 Z" fill="url(#redfade2)" filter="url(#blur05)"/>
<rect x="49.2" y="380.6" width="36.0" height="226.89999999999998" fill="none" stroke="#bdbdbd" stroke-width="0.6"/>
<rect x="48.90" y="551.80" width="36.60" height="1.10" fill="#d4d4d4" />
<rect x="48.90" y="573.60" width="36.60" height="1.10" fill="#d4d4d4" />
<line x1="49.20" y1="607.50" x2="49.20" y2="609.30" stroke="#999" stroke-width="0.6" />
<line x1="67.20" y1="607.50" x2="67.20" y2="609.30" stroke="#999" stroke-width="0.6" />
<line x1="85.20" y1="607.50" x2="85.20" y2="609.30" stroke="#999" stroke-width="0.6" />
<rect x="89.2" y="380.6" width="34.89999999999999" height="226.89999999999998" fill="none" stroke="#bdbdbd" stroke-width="0.6"/>
<rect x="88.90" y="551.80" width="35.50" height="1.10" fill="#d4d4d4" />
<rect x="88.90" y="573.60" width="35.50" height="1.10" fill="#d4d4d4" />
<line x1="89.20" y1="607.50" x2="89.20" y2="609.30" stroke="#999" stroke-width="0.6" />
<line x1="106.65" y1="607.50" x2="106.65" y2="609.30" stroke="#999" stroke-width="0.6" />
<line x1="124.10" y1="607.50" x2="124.10" y2="609.30" stroke="#999" stroke-width="0.6" />
<text transform="translate(56.3,373.2) rotate(-45)" font-size="13">FOXA1-</text>
<text transform="translate(70.0,378.2) rotate(-45)" font-size="13">201.1</text>
<text transform="translate(99.7,373.2) rotate(-45)" font-size="13">FOXA2-</text>
<text transform="translate(113.5,378.2) rotate(-45)" font-size="13">201.2</text>
<text transform="translate(14.0,587.1) rotate(-90)" font-size="13.3" text-anchor="middle">FOXA2-</text>
<text transform="translate(29.6,587.5) rotate(-90)" font-size="13.0" text-anchor="middle">specific</text>
<path d="M34.9,592.0 L42.5,592.0" stroke="#000" stroke-width="2.4"/>
<path d="M48.6,592.0 L41.0,588.2 L41.0,595.8 Z" fill="#000"/>
<text x="89.40" y="627.90" font-size="10.6" text-anchor="middle" fill="#111" style="stroke:#111;stroke-width:0.22px" >ChIP-Seq signals (±2kb) centered</text>
<text x="89.40" y="638.90" font-size="10.6" text-anchor="middle" fill="#111" style="stroke:#111;stroke-width:0.22px" >at total FOXA1 or 2 binding sites</text>
<text x="50.30" y="695.40" font-size="12.0" text-anchor="start" fill="#000" style="stroke:#000;stroke-width:0.22px" textLength="86.0" lengthAdjust="spacingAndGlyphs">-log10(p.adjust)</text>
<circle cx="59.80" cy="713.10" r="4.90" fill="#595959" />
<text x="75.60" y="716.80" font-size="10.4" text-anchor="start" fill="#222" style="stroke:#222;stroke-width:0.22px" >2.0</text>
<circle cx="59.80" cy="732.70" r="6.10" fill="#595959" />
<text x="75.60" y="736.40" font-size="10.4" text-anchor="start" fill="#222" style="stroke:#222;stroke-width:0.22px" >2.5</text>
<circle cx="59.80" cy="752.20" r="7.20" fill="#595959" />
<text x="75.60" y="755.90" font-size="10.4" text-anchor="start" fill="#222" style="stroke:#222;stroke-width:0.22px" >3.0</text>
<circle cx="59.80" cy="771.80" r="8.10" fill="#595959" />
<text x="75.60" y="775.50" font-size="10.4" text-anchor="start" fill="#222" style="stroke:#222;stroke-width:0.22px" >3.5</text>
<text x="161.60" y="695.40" font-size="12.3" text-anchor="start" fill="#000" style="stroke:#000;stroke-width:0.22px" >Count</text>
<rect x="161.6" y="703.6" width="19.5" height="97.3" fill="url(#cnt)"/>
<text x="187.40" y="707.70" font-size="10.4" text-anchor="start" fill="#222" style="stroke:#222;stroke-width:0.22px" >25</text>
<line x1="161.60" y1="727.50" x2="165.00" y2="727.50" stroke="#ccc" stroke-width="0.7" />
<line x1="177.70" y1="727.50" x2="181.10" y2="727.50" stroke="#ccc" stroke-width="0.7" />
<text x="187.40" y="731.20" font-size="10.4" text-anchor="start" fill="#222" style="stroke:#222;stroke-width:0.22px" >20</text>
<line x1="161.60" y1="750.20" x2="165.00" y2="750.20" stroke="#ccc" stroke-width="0.7" />
<line x1="177.70" y1="750.20" x2="181.10" y2="750.20" stroke="#ccc" stroke-width="0.7" />
<text x="187.40" y="753.90" font-size="10.4" text-anchor="start" fill="#222" style="stroke:#222;stroke-width:0.22px" >15</text>
<line x1="161.60" y1="772.80" x2="165.00" y2="772.80" stroke="#ccc" stroke-width="0.7" />
<line x1="177.70" y1="772.80" x2="181.10" y2="772.80" stroke="#ccc" stroke-width="0.7" />
<text x="187.40" y="776.50" font-size="10.4" text-anchor="start" fill="#222" style="stroke:#222;stroke-width:0.22px" >10</text>
<line x1="161.60" y1="796.40" x2="165.00" y2="796.40" stroke="#ccc" stroke-width="0.7" />
<line x1="177.70" y1="796.40" x2="181.10" y2="796.40" stroke="#ccc" stroke-width="0.7" />
<text x="187.40" y="800.10" font-size="10.4" text-anchor="start" fill="#222" style="stroke:#222;stroke-width:0.22px" >5</text>
<rect x="216.4" y="361.6" width="180.4" height="161.5" fill="none" stroke="#7a7a7a" stroke-width="1.0"/>
<line x1="212.80" y1="517.10" x2="216.40" y2="517.10" stroke="#333" stroke-width="0.8" />
<text x="212.40" y="522.70" font-size="12.9" text-anchor="end" fill="#000" style="stroke:#000;stroke-width:0.22px" >0</text>
<line x1="212.80" y1="487.18" x2="216.40" y2="487.18" stroke="#333" stroke-width="0.8" />
<text x="212.40" y="492.78" font-size="12.9" text-anchor="end" fill="#000" style="stroke:#000;stroke-width:0.22px" >20</text>
<line x1="212.80" y1="457.26" x2="216.40" y2="457.26" stroke="#333" stroke-width="0.8" />
<text x="212.40" y="462.86" font-size="12.9" text-anchor="end" fill="#000" style="stroke:#000;stroke-width:0.22px" >40</text>
<line x1="212.80" y1="427.34" x2="216.40" y2="427.34" stroke="#333" stroke-width="0.8" />
<text x="212.40" y="432.94" font-size="12.9" text-anchor="end" fill="#000" style="stroke:#000;stroke-width:0.22px" >60</text>
<line x1="212.80" y1="397.42" x2="216.40" y2="397.42" stroke="#333" stroke-width="0.8" />
<text x="212.40" y="403.02" font-size="12.9" text-anchor="end" fill="#000" style="stroke:#000;stroke-width:0.22px" >80</text>
<line x1="212.80" y1="367.50" x2="216.40" y2="367.50" stroke="#333" stroke-width="0.8" />
<text x="212.40" y="373.10" font-size="12.9" text-anchor="end" fill="#000" style="stroke:#000;stroke-width:0.22px" >100</text>
<line x1="223.00" y1="523.10" x2="223.00" y2="526.50" stroke="#333" stroke-width="0.8" />
<text x="223.00" y="537.70" font-size="12.9" text-anchor="middle" fill="#000" style="stroke:#000;stroke-width:0.22px" >0</text>
<line x1="277.45" y1="523.10" x2="277.45" y2="526.50" stroke="#333" stroke-width="0.8" />
<text x="277.45" y="537.70" font-size="12.9" text-anchor="middle" fill="#000" style="stroke:#000;stroke-width:0.22px" >5k</text>
<line x1="331.90" y1="523.10" x2="331.90" y2="526.50" stroke="#333" stroke-width="0.8" />
<text x="331.90" y="537.70" font-size="12.9" text-anchor="middle" fill="#000" style="stroke:#000;stroke-width:0.22px" >10k</text>
<line x1="386.35" y1="523.10" x2="386.35" y2="526.50" stroke="#333" stroke-width="0.8" />
<text x="386.35" y="537.70" font-size="12.9" text-anchor="middle" fill="#000" style="stroke:#000;stroke-width:0.22px" >15k</text>
<rect x="216.4" y="361.6" width="63.29999999999998" height="25.0" fill="#fff" stroke="#555" stroke-width="0.6"/>
<rect x="219.50" y="366.50" width="2.20" height="2.20" fill="#000" />
<text x="225.60" y="369.50" font-size="5.2" text-anchor="start" fill="#222" style="stroke:#222;stroke-width:0.08px" >static (background)</text>
<rect x="219.50" y="372.60" width="2.20" height="2.20" fill="#d6484a" />
<text x="225.60" y="375.60" font-size="5.2" text-anchor="start" fill="#222" style="stroke:#222;stroke-width:0.08px" >upregulate (0.000335)</text>
<rect x="219.50" y="378.70" width="2.20" height="2.20" fill="#8068cc" />
<text x="225.60" y="381.70" font-size="5.2" text-anchor="start" fill="#222" style="stroke:#222;stroke-width:0.08px" >downregulate (0)</text>
<path d="M223.00,517.10 L224.39,517.10 L224.39,516.85 L225.79,516.85 L225.79,515.46 L227.18,515.46 L227.18,514.97 L228.57,514.97 L228.57,514.96 L229.97,514.96 L229.97,514.16 L231.36,514.16 L231.36,513.66 L232.75,513.66 L232.75,512.90 L234.14,512.90 L234.14,512.24 L235.54,512.24 L235.54,512.24 L236.93,512.24 L236.93,512.24 L238.32,512.24 L238.32,511.10 L239.72,511.10 L239.72,511.10 L241.11,511.10 L241.11,510.44 L242.50,510.44 L242.50,510.44 L243.90,510.44 L243.90,510.05 L245.29,510.05 L245.29,509.39 L246.68,509.39 L246.68,509.39 L248.07,509.39 L248.07,508.38 L249.47,508.38 L249.47,508.03 L250.86,508.03 L250.86,508.03 L252.25,508.03 L252.25,508.03 L253.65,508.03 L253.65,507.21 L255.04,507.21 L255.04,506.40 L256.43,506.40 L256.43,506.40 L257.83,506.40 L257.83,506.36 L259.22,506.36 L259.22,505.75 L260.61,505.75 L260.61,505.75 L262.00,505.75 L262.00,505.14 L263.40,505.14 L263.40,504.46 L264.79,504.46 L264.79,503.95 L266.18,503.95 L266.18,503.77 L267.58,503.77 L267.58,503.32 L268.97,503.32 L268.97,502.88 L270.36,502.88 L270.36,502.18 L271.76,502.18 L271.76,501.91 L273.15,501.91 L273.15,501.74 L274.54,501.74 L274.54,500.43 L275.93,500.43 L275.93,500.27 L277.33,500.27 L277.33,499.65 L278.72,499.65 L278.72,499.55 L280.11,499.55 L280.11,498.13 L281.51,498.13 L281.51,497.70 L282.90,497.70 L282.90,497.70 L284.29,497.70 L284.29,497.10 L285.69,497.10 L285.69,496.12 L287.08,496.12 L287.08,495.56 L288.47,495.56 L288.47,494.75 L289.86,494.75 L289.86,494.71 L291.26,494.71 L291.26,493.71 L292.65,493.71 L292.65,493.22 L294.04,493.22 L294.04,492.92 L295.44,492.92 L295.44,491.94 L296.83,491.94 L296.83,490.95 L298.22,490.95 L298.22,490.30 L299.62,490.30 L299.62,489.98 L301.01,489.98 L301.01,489.21 L302.40,489.21 L302.40,489.10 L303.79,489.10 L303.79,488.20 L305.19,488.20 L305.19,486.94 L306.58,486.94 L306.58,486.66 L307.97,486.66 L307.97,486.28 L309.37,486.28 L309.37,485.27 L310.76,485.27 L310.76,484.49 L312.15,484.49 L312.15,483.91 L313.55,483.91 L313.55,483.61 L314.94,483.61 L314.94,482.93 L316.33,482.93 L316.33,482.24 L317.72,482.24 L317.72,481.34 L319.12,481.34 L319.12,480.99 L320.51,480.99 L320.51,480.51 L321.90,480.51 L321.90,479.80 L323.30,479.80 L323.30,479.68 L324.69,479.68 L324.69,479.06 L326.08,479.06 L326.08,477.77 L327.48,477.77 L327.48,476.88 L328.87,476.88 L328.87,476.69 L330.26,476.69 L330.26,476.30 L331.65,476.30 L331.65,475.93 L333.05,475.93 L333.05,474.98 L334.44,474.98 L334.44,473.88 L335.83,473.88 L335.83,473.50 L337.23,473.50 L337.23,473.15 L338.62,473.15 L338.62,472.19 L340.01,472.19 L340.01,472.13 L341.41,472.13 L341.41,471.11 L342.80,471.11 L342.80,469.92 L344.19,469.92 L344.19,469.59 L345.59,469.59 L345.59,468.99 L346.98,468.99 L346.98,468.47 L348.37,468.47 L348.37,467.45 L349.76,467.45 L349.76,466.30 L351.16,466.30 L351.16,466.30 L352.55,466.30 L352.55,465.03 L353.94,465.03 L353.94,464.28 L355.34,464.28 L355.34,463.52 L356.73,463.52 L356.73,462.99 L358.12,462.99 L358.12,462.24 L359.52,462.24 L359.52,461.86 L360.91,461.86 L360.91,461.13 L362.30,461.13 L362.30,460.59 L363.69,460.59 L363.69,460.29 L365.09,460.29 L365.09,458.76 L366.48,458.76 L366.48,458.39 L367.87,458.39 L367.87,458.09 L369.27,458.09 L369.27,457.11 L370.66,457.11 L370.66,456.54 L372.05,456.54 L372.05,456.09 L373.45,456.09 L373.45,455.51 L374.84,455.51 L374.84,454.72 L376.23,454.72 L376.23,454.04 L377.62,454.04 L377.62,453.47 L379.02,453.47 L379.02,453.04 L380.41,453.04 L380.41,452.90 L381.80,452.90 L381.80,452.10 L383.20,452.10 L383.20,451.57 L384.59,451.57 L384.59,450.55 L385.98,450.55 L385.98,449.67 L387.38,449.67 L387.38,449.15 L388.77,449.15 L388.77,448.56 L390.16,448.56 L390.16,448.28" fill="none" stroke="#1a1a1a" stroke-width="0.9" stroke-linejoin="round"/>
<path d="M223.00,517.10 L224.39,517.10 L224.39,515.03 L225.79,515.03 L225.79,513.44 L227.18,513.44 L227.18,513.44 L228.57,513.44 L228.57,512.89 L229.97,512.89 L229.97,511.56 L231.36,511.56 L231.36,511.11 L232.75,511.11 L232.75,510.64 L234.14,510.64 L234.14,510.48 L235.54,510.48 L235.54,509.70 L236.93,509.70 L236.93,509.23 L238.32,509.23 L238.32,508.79 L239.72,508.79 L239.72,508.76 L241.11,508.76 L241.11,508.01 L242.50,508.01 L242.50,507.58 L243.90,507.58 L243.90,506.76 L245.29,506.76 L245.29,506.01 L246.68,506.01 L246.68,505.40 L248.07,505.40 L248.07,505.03 L249.47,505.03 L249.47,504.34 L250.86,504.34 L250.86,503.73 L252.25,503.73 L252.25,503.18 L253.65,503.18 L253.65,502.40 L255.04,502.40 L255.04,501.15 L256.43,501.15 L256.43,500.51 L257.83,500.51 L257.83,499.65 L259.22,499.65 L259.22,498.32 L260.61,498.32 L260.61,497.91 L262.00,497.91 L262.00,497.14 L263.40,497.14 L263.40,496.78 L264.79,496.78 L264.79,496.30 L266.18,496.30 L266.18,495.28 L267.58,495.28 L267.58,494.78 L268.97,494.78 L268.97,493.68 L270.36,493.68 L270.36,492.47 L271.76,492.47 L271.76,492.11 L273.15,492.11 L273.15,491.92 L274.54,491.92 L274.54,490.48 L275.93,490.48 L275.93,489.88 L277.33,489.88 L277.33,489.24 L278.72,489.24 L278.72,488.53 L280.11,488.53 L280.11,488.16 L281.51,488.16 L281.51,487.62 L282.90,487.62 L282.90,487.56 L284.29,487.56 L284.29,486.39 L285.69,486.39 L285.69,485.89 L287.08,485.89 L287.08,485.89 L288.47,485.89 L288.47,485.08 L289.86,485.08 L289.86,484.61 L291.26,484.61 L291.26,484.36 L292.65,484.36 L292.65,483.59 L294.04,483.59 L294.04,482.88 L295.44,482.88 L295.44,481.68 L296.83,481.68 L296.83,481.37 L298.22,481.37 L298.22,480.27 L299.62,480.27 L299.62,480.02 L301.01,480.02 L301.01,478.71 L302.40,478.71 L302.40,477.94 L303.79,477.94 L303.79,477.65 L305.19,477.65 L305.19,476.79 L306.58,476.79 L306.58,475.67 L307.97,475.67 L307.97,475.03 L309.37,475.03 L309.37,474.42 L310.76,474.42 L310.76,473.84 L312.15,473.84 L312.15,472.87 L313.55,472.87 L313.55,471.61 L314.94,471.61 L314.94,471.31 L316.33,471.31 L316.33,469.67 L317.72,469.67 L317.72,469.48 L319.12,469.48 L319.12,467.95 L320.51,467.95 L320.51,467.72 L321.90,467.72 L321.90,466.18 L323.30,466.18 L323.30,465.65 L324.69,465.65 L324.69,465.08 L326.08,465.08 L326.08,464.29 L327.48,464.29 L327.48,463.37 L328.87,463.37 L328.87,462.66 L330.26,462.66 L330.26,462.17 L331.65,462.17 L331.65,461.50 L333.05,461.50 L333.05,460.40 L334.44,460.40 L334.44,459.18 L335.83,459.18 L335.83,458.72 L337.23,458.72 L337.23,458.52 L338.62,458.52 L338.62,456.89 L340.01,456.89 L340.01,456.13 L341.41,456.13 L341.41,455.09 L342.80,455.09 L342.80,454.98 L344.19,454.98 L344.19,453.55 L345.59,453.55 L345.59,453.41 L346.98,453.41 L346.98,451.94 L348.37,451.94 L348.37,451.48 L349.76,451.48 L349.76,450.67 L351.16,450.67 L351.16,449.14 L352.55,449.14 L352.55,449.09 L353.94,449.09 L353.94,447.88 L355.34,447.88 L355.34,447.08 L356.73,447.08 L356.73,447.08 L358.12,447.08 L358.12,446.85 L359.52,446.85 L359.52,445.70 L360.91,445.70 L360.91,445.70 L362.30,445.70 L362.30,444.97 L363.69,444.97 L363.69,444.97 L365.09,444.97 L365.09,444.44 L366.48,444.44 L366.48,444.19 L367.87,444.19 L367.87,443.22 L369.27,443.22 L369.27,443.22 L370.66,443.22 L370.66,442.02 L372.05,442.02 L372.05,442.02 L373.45,442.02 L373.45,441.23 L374.84,441.23 L374.84,441.23 L376.23,441.23 L376.23,440.54 L377.62,440.54 L377.62,439.37 L379.02,439.37 L379.02,439.37 L380.41,439.37 L380.41,438.84 L381.80,438.84 L381.80,437.72 L383.20,437.72 L383.20,437.45 L384.59,437.45 L384.59,437.22 L385.98,437.22 L385.98,435.63 L387.38,435.63 L387.38,435.63 L388.77,435.63 L388.77,435.45 L390.16,435.45 L390.16,434.37" fill="none" stroke="#d6484a" stroke-width="0.9" stroke-linejoin="round"/>
<path d="M223.00,517.10 L224.39,517.10 L224.39,509.72 L225.79,509.72 L225.79,503.92 L227.18,503.92 L227.18,499.08 L228.57,499.08 L228.57,493.81 L229.97,493.81 L229.97,489.90 L231.36,489.90 L231.36,487.09 L232.75,487.09 L232.75,483.74 L234.14,483.74 L234.14,479.70 L235.54,479.70 L235.54,478.15 L236.93,478.15 L236.93,476.02 L238.32,476.02 L238.32,473.06 L239.72,473.06 L239.72,471.46 L241.11,471.46 L241.11,469.61 L242.50,469.61 L242.50,468.62 L243.90,468.62 L243.90,467.08 L245.29,467.08 L245.29,466.22 L246.68,466.22 L246.68,464.34 L248.07,464.34 L248.07,462.73 L249.47,462.73 L249.47,461.72 L250.86,461.72 L250.86,460.22 L252.25,460.22 L252.25,459.15 L253.65,459.15 L253.65,458.64 L255.04,458.64 L255.04,456.76 L256.43,456.76 L256.43,455.79 L257.83,455.79 L257.83,454.94 L259.22,454.94 L259.22,454.08 L260.61,454.08 L260.61,452.06 L262.00,452.06 L262.00,451.55 L263.40,451.55 L263.40,450.51 L264.79,450.51 L264.79,449.56 L266.18,449.56 L266.18,448.95 L267.58,448.95 L267.58,447.94 L268.97,447.94 L268.97,447.71 L270.36,447.71 L270.36,446.50 L271.76,446.50 L271.76,446.09 L273.15,446.09 L273.15,444.87 L274.54,444.87 L274.54,444.24 L275.93,444.24 L275.93,444.24 L277.33,444.24 L277.33,443.64 L278.72,443.64 L278.72,442.87 L280.11,442.87 L280.11,441.39 L281.51,441.39 L281.51,441.26 L282.90,441.26 L282.90,440.37 L284.29,440.37 L284.29,439.92 L285.69,439.92 L285.69,438.91 L287.08,438.91 L287.08,438.25 L288.47,438.25 L288.47,437.49 L289.86,437.49 L289.86,436.46 L291.26,436.46 L291.26,435.67 L292.65,435.67 L292.65,434.54 L294.04,434.54 L294.04,433.98 L295.44,433.98 L295.44,432.93 L296.83,432.93 L296.83,432.22 L298.22,432.22 L298.22,431.29 L299.62,431.29 L299.62,430.83 L301.01,430.83 L301.01,430.55 L302.40,430.55 L302.40,429.01 L303.79,429.01 L303.79,428.09 L305.19,428.09 L305.19,427.34 L306.58,427.34 L306.58,426.88 L307.97,426.88 L307.97,425.92 L309.37,425.92 L309.37,425.64 L310.76,425.64 L310.76,424.18 L312.15,424.18 L312.15,423.64 L313.55,423.64 L313.55,423.13 L314.94,423.13 L314.94,422.55 L316.33,422.55 L316.33,420.92 L317.72,420.92 L317.72,419.96 L319.12,419.96 L319.12,419.96 L320.51,419.96 L320.51,418.54 L321.90,418.54 L321.90,418.14 L323.30,418.14 L323.30,417.75 L324.69,417.75 L324.69,417.10 L326.08,417.10 L326.08,416.11 L327.48,416.11 L327.48,415.50 L328.87,415.50 L328.87,415.50 L330.26,415.50 L330.26,414.78 L331.65,414.78 L331.65,414.78 L333.05,414.78 L333.05,413.68 L334.44,413.68 L334.44,413.59 L335.83,413.59 L335.83,412.52 L337.23,412.52 L337.23,411.92 L338.62,411.92 L338.62,411.92 L340.01,411.92 L340.01,410.95 L341.41,410.95 L341.41,410.95 L342.80,410.95 L342.80,410.95 L344.19,410.95 L344.19,409.96 L345.59,409.96 L345.59,409.96 L346.98,409.96 L346.98,409.43 L348.37,409.43 L348.37,408.74 L349.76,408.74 L349.76,408.06 L351.16,408.06 L351.16,408.06 L352.55,408.06 L352.55,407.71 L353.94,407.71 L353.94,406.38 L355.34,406.38 L355.34,406.38 L356.73,406.38 L356.73,405.48 L358.12,405.48 L358.12,405.14 L359.52,405.14 L359.52,405.14 L360.91,405.14 L360.91,404.78 L362.30,404.78 L362.30,404.32 L363.69,404.32 L363.69,403.78 L365.09,403.78 L365.09,403.43 L366.48,403.43 L366.48,403.06 L367.87,403.06 L367.87,402.59 L369.27,402.59 L369.27,401.85 L370.66,401.85 L370.66,401.85 L372.05,401.85 L372.05,401.57 L373.45,401.57 L373.45,401.05 L374.84,401.05 L374.84,401.05 L376.23,401.05 L376.23,401.05 L377.62,401.05 L377.62,400.19 L379.02,400.19 L379.02,400.19 L380.41,400.19 L380.41,400.19 L381.80,400.19 L381.80,400.19 L383.20,400.19 L383.20,399.99 L384.59,399.99 L384.59,399.62 L385.98,399.62 L385.98,399.62 L387.38,399.62 L387.38,399.19 L388.77,399.19 L388.77,398.97 L390.16,398.97 L390.16,398.92" fill="none" stroke="#8068cc" stroke-width="0.9" stroke-linejoin="round"/>
<line x1="390.16150000000005" y1="448.284" x2="390.16150000000005" y2="434.37120000000004" stroke="#222" stroke-width="0.8" stroke-dasharray="1.2,1.2"/>
<line x1="390.16150000000005" y1="434.37120000000004" x2="390.16150000000005" y2="398.91600000000005" stroke="#d6484a" stroke-width="0.9"/>
<line x1="390.16150000000005" y1="398.91600000000005" x2="390.16150000000005" y2="367.5" stroke="#8068cc" stroke-width="0.9"/>
<text x="247.30" y="352.70" font-size="13.15" text-anchor="start" fill="#000" style="stroke:#000;stroke-width:0.22px" >FOXA1 Sites (201.1)</text>
<text transform="translate(172.2,444.7) rotate(-90)" font-size="13.2" text-anchor="middle">Cumulative Fraction of</text>
<text transform="translate(188.2,444.6) rotate(-90)" font-size="13.2" text-anchor="middle">Genes %</text>
<text x="303.20" y="556.20" font-size="13.1" text-anchor="middle" fill="#000" style="stroke:#000;stroke-width:0.22px" >Rank of genes based on Regulatory</text>
<text x="303.10" y="570.50" font-size="13.1" text-anchor="middle" fill="#000" style="stroke:#000;stroke-width:0.22px" >potential Score (from high to low)</text>
<text x="220.60" y="404.60" font-size="13.15" text-anchor="start" fill="#000" style="stroke:#000;stroke-width:0.22px" >201.2 downregulated</text>
<text x="219.4" y="417" font-size="13.1"><tspan font-style="italic" font-size="11.5">P</tspan>&lt;10<tspan font-size="9" dy="-4.5">-35</tspan></text>
<text x="289.50" y="511.90" font-size="13.15" text-anchor="start" fill="#000" style="stroke:#000;stroke-width:0.22px" >201.2 upregulated</text>
<text x="339.5" y="488.6" font-size="12.9"><tspan font-style="italic" font-size="11.3">P</tspan>=0.000335</text>
<line x1="267.30" y1="407.60" x2="279.62" y2="428.71" stroke="#000" stroke-width="1.15" />
<path d="M283.00,434.50 L276.18,430.15 L282.57,426.42 Z" fill="#000"/>
<line x1="338.80" y1="497.40" x2="327.01" y2="473.98" stroke="#000" stroke-width="1.15" />
<path d="M324.00,468.00 L330.54,472.77 L323.93,476.09 Z" fill="#000"/>
<rect x="490.7" y="362.6" width="180.00000000000006" height="160.29999999999995" fill="none" stroke="#7a7a7a" stroke-width="1.0"/>
<line x1="487.10" y1="516.40" x2="490.70" y2="516.40" stroke="#333" stroke-width="0.8" />
<text x="486.70" y="522.00" font-size="12.9" text-anchor="end" fill="#000" style="stroke:#000;stroke-width:0.22px" >0</text>
<line x1="487.10" y1="486.84" x2="490.70" y2="486.84" stroke="#333" stroke-width="0.8" />
<text x="486.70" y="492.44" font-size="12.9" text-anchor="end" fill="#000" style="stroke:#000;stroke-width:0.22px" >20</text>
<line x1="487.10" y1="457.28" x2="490.70" y2="457.28" stroke="#333" stroke-width="0.8" />
<text x="486.70" y="462.88" font-size="12.9" text-anchor="end" fill="#000" style="stroke:#000;stroke-width:0.22px" >40</text>
<line x1="487.10" y1="427.72" x2="490.70" y2="427.72" stroke="#333" stroke-width="0.8" />
<text x="486.70" y="433.32" font-size="12.9" text-anchor="end" fill="#000" style="stroke:#000;stroke-width:0.22px" >60</text>
<line x1="487.10" y1="398.16" x2="490.70" y2="398.16" stroke="#333" stroke-width="0.8" />
<text x="486.70" y="403.76" font-size="12.9" text-anchor="end" fill="#000" style="stroke:#000;stroke-width:0.22px" >80</text>
<line x1="487.10" y1="368.60" x2="490.70" y2="368.60" stroke="#333" stroke-width="0.8" />
<text x="486.70" y="374.20" font-size="12.9" text-anchor="end" fill="#000" style="stroke:#000;stroke-width:0.22px" >100</text>
<line x1="497.50" y1="522.90" x2="497.50" y2="526.30" stroke="#333" stroke-width="0.8" />
<text x="497.50" y="537.30" font-size="12.9" text-anchor="middle" fill="#000" style="stroke:#000;stroke-width:0.22px" >0</text>
<line x1="534.85" y1="522.90" x2="534.85" y2="526.30" stroke="#333" stroke-width="0.8" />
<text x="534.85" y="537.30" font-size="12.9" text-anchor="middle" fill="#000" style="stroke:#000;stroke-width:0.22px" >2k</text>
<line x1="572.20" y1="522.90" x2="572.20" y2="526.30" stroke="#333" stroke-width="0.8" />
<text x="572.20" y="537.30" font-size="12.9" text-anchor="middle" fill="#000" style="stroke:#000;stroke-width:0.22px" >4k</text>
<line x1="609.55" y1="522.90" x2="609.55" y2="526.30" stroke="#333" stroke-width="0.8" />
<text x="609.55" y="537.30" font-size="12.9" text-anchor="middle" fill="#000" style="stroke:#000;stroke-width:0.22px" >6k</text>
<line x1="646.90" y1="522.90" x2="646.90" y2="526.30" stroke="#333" stroke-width="0.8" />
<text x="646.90" y="537.30" font-size="12.9" text-anchor="middle" fill="#000" style="stroke:#000;stroke-width:0.22px" >8k</text>
<rect x="490.7" y="362.6" width="61.19999999999999" height="24.599999999999966" fill="#fff" stroke="#555" stroke-width="0.6"/>
<rect x="493.80" y="367.50" width="2.20" height="2.20" fill="#000" />
<text x="499.90" y="370.50" font-size="5.2" text-anchor="start" fill="#222" style="stroke:#222;stroke-width:0.08px" >static (background)</text>
<rect x="493.80" y="373.60" width="2.20" height="2.20" fill="#d6484a" />
<text x="499.90" y="376.60" font-size="5.2" text-anchor="start" fill="#222" style="stroke:#222;stroke-width:0.08px" >upregulate (0)</text>
<rect x="493.80" y="379.70" width="2.20" height="2.20" fill="#8068cc" />
<text x="499.90" y="382.70" font-size="5.2" text-anchor="start" fill="#222" style="stroke:#222;stroke-width:0.08px" >downregulate (0.539)</text>
<path d="M497.50,516.40 L498.89,516.40 L498.89,516.23 L500.27,516.23 L500.27,515.93 L501.66,515.93 L501.66,515.19 L503.04,515.19 L503.04,515.00 L504.43,515.00 L504.43,514.57 L505.81,514.57 L505.81,513.69 L507.20,513.69 L507.20,512.62 L508.58,512.62 L508.58,512.21 L509.97,512.21 L509.97,511.71 L511.35,511.71 L511.35,511.71 L512.74,511.71 L512.74,511.28 L514.12,511.28 L514.12,511.22 L515.51,511.22 L515.51,511.00 L516.89,511.00 L516.89,510.73 L518.28,510.73 L518.28,510.29 L519.66,510.29 L519.66,509.22 L521.05,509.22 L521.05,509.00 L522.43,509.00 L522.43,508.69 L523.82,508.69 L523.82,508.36 L525.20,508.36 L525.20,508.36 L526.59,508.36 L526.59,508.21 L527.97,508.21 L527.97,507.56 L529.36,507.56 L529.36,507.12 L530.74,507.12 L530.74,506.67 L532.13,506.67 L532.13,506.31 L533.51,506.31 L533.51,506.31 L534.90,506.31 L534.90,505.94 L536.28,505.94 L536.28,505.55 L537.67,505.55 L537.67,505.39 L539.05,505.39 L539.05,505.39 L540.44,505.39 L540.44,504.77 L541.82,504.77 L541.82,504.77 L543.21,504.77 L543.21,503.63 L544.59,503.63 L544.59,503.37 L545.98,503.37 L545.98,503.37 L547.36,503.37 L547.36,503.30 L548.75,503.30 L548.75,502.34 L550.13,502.34 L550.13,502.34 L551.52,502.34 L551.52,501.70 L552.90,501.70 L552.90,501.41 L554.29,501.41 L554.29,501.41 L555.67,501.41 L555.67,501.32 L557.06,501.32 L557.06,500.87 L558.44,500.87 L558.44,500.80 L559.83,500.80 L559.83,500.80 L561.21,500.80 L561.21,500.42 L562.60,500.42 L562.60,499.65 L563.98,499.65 L563.98,499.65 L565.37,499.65 L565.37,499.65 L566.75,499.65 L566.75,499.08 L568.14,499.08 L568.14,499.08 L569.52,499.08 L569.52,498.67 L570.91,498.67 L570.91,498.46 L572.29,498.46 L572.29,498.30 L573.68,498.30 L573.68,497.33 L575.06,497.33 L575.06,497.33 L576.45,497.33 L576.45,497.33 L577.83,497.33 L577.83,497.28 L579.22,497.28 L579.22,496.54 L580.60,496.54 L580.60,496.54 L581.99,496.54 L581.99,496.25 L583.37,496.25 L583.37,495.55 L584.76,495.55 L584.76,495.55 L586.14,495.55 L586.14,495.16 L587.53,495.16 L587.53,494.51 L588.91,494.51 L588.91,494.51 L590.30,494.51 L590.30,494.51 L591.68,494.51 L591.68,494.19 L593.07,494.19 L593.07,493.09 L594.45,493.09 L594.45,492.69 L595.84,492.69 L595.84,492.54 L597.22,492.54 L597.22,491.89 L598.61,491.89 L598.61,491.50 L599.99,491.50 L599.99,490.66 L601.38,490.66 L601.38,490.55 L602.76,490.55 L602.76,489.32 L604.15,489.32 L604.15,488.57 L605.53,488.57 L605.53,487.96 L606.92,487.96 L606.92,487.73 L608.31,487.73 L608.31,487.07 L609.69,487.07 L609.69,487.07 L611.08,487.07 L611.08,486.91 L612.46,486.91 L612.46,485.78 L613.85,485.78 L613.85,485.55 L615.23,485.55 L615.23,485.50 L616.62,485.50 L616.62,484.52 L618.00,484.52 L618.00,484.43 L619.39,484.43 L619.39,483.79 L620.77,483.79 L620.77,483.79 L622.16,483.79 L622.16,483.59 L623.54,483.59 L623.54,482.90 L624.93,482.90 L624.93,482.79 L626.31,482.79 L626.31,482.10 L627.70,482.10 L627.70,481.08 L629.08,481.08 L629.08,481.08 L630.47,481.08 L630.47,481.08 L631.85,481.08 L631.85,480.94 L633.24,480.94 L633.24,480.51 L634.62,480.51 L634.62,479.58 L636.01,479.58 L636.01,479.58 L637.39,479.58 L637.39,479.49 L638.78,479.49 L638.78,479.40 L640.16,479.40 L640.16,478.18 L641.55,478.18 L641.55,478.18 L642.93,478.18 L642.93,478.18 L644.32,478.18 L644.32,478.18 L645.70,478.18 L645.70,477.95 L647.09,477.95 L647.09,477.55 L648.47,477.55 L648.47,476.84 L649.86,476.84 L649.86,476.84 L651.24,476.84 L651.24,476.84 L652.63,476.84 L652.63,476.49 L654.01,476.49 L654.01,476.49 L655.40,476.49 L655.40,475.60 L656.78,475.60 L656.78,475.60 L658.17,475.60 L658.17,475.60 L659.55,475.60 L659.55,475.28 L660.94,475.28 L660.94,475.28 L662.32,475.28 L662.32,474.69 L663.71,474.69 L663.71,474.69" fill="none" stroke="#1a1a1a" stroke-width="0.9" stroke-linejoin="round"/>
<path d="M497.50,516.40 L498.89,516.40 L498.89,515.72 L500.27,515.72 L500.27,515.05 L501.66,515.05 L501.66,514.45 L503.04,514.45 L503.04,513.75 L504.43,513.75 L504.43,513.37 L505.81,513.37 L505.81,512.59 L507.20,512.59 L507.20,512.59 L508.58,512.59 L508.58,511.88 L509.97,511.88 L509.97,510.79 L511.35,510.79 L511.35,510.63 L512.74,510.63 L512.74,509.90 L514.12,509.90 L514.12,509.90 L515.51,509.90 L515.51,509.43 L516.89,509.43 L516.89,509.19 L518.28,509.19 L518.28,508.42 L519.66,508.42 L519.66,507.93 L521.05,507.93 L521.05,507.93 L522.43,507.93 L522.43,507.38 L523.82,507.38 L523.82,506.85 L525.20,506.85 L525.20,505.73 L526.59,505.73 L526.59,505.43 L527.97,505.43 L527.97,505.43 L529.36,505.43 L529.36,504.48 L530.74,504.48 L530.74,504.48 L532.13,504.48 L532.13,503.76 L533.51,503.76 L533.51,503.76 L534.90,503.76 L534.90,503.48 L536.28,503.48 L536.28,502.13 L537.67,502.13 L537.67,502.13 L539.05,502.13 L539.05,501.90 L540.44,501.90 L540.44,500.69 L541.82,500.69 L541.82,500.46 L543.21,500.46 L543.21,500.46 L544.59,500.46 L544.59,499.68 L545.98,499.68 L545.98,499.68 L547.36,499.68 L547.36,499.28 L548.75,499.28 L548.75,499.28 L550.13,499.28 L550.13,498.31 L551.52,498.31 L551.52,498.23 L552.90,498.23 L552.90,497.60 L554.29,497.60 L554.29,497.36 L555.67,497.36 L555.67,497.36 L557.06,497.36 L557.06,497.33 L558.44,497.33 L558.44,497.24 L559.83,497.24 L559.83,496.97 L561.21,496.97 L561.21,496.77 L562.60,496.77 L562.60,496.23 L563.98,496.23 L563.98,495.63 L565.37,495.63 L565.37,495.63 L566.75,495.63 L566.75,494.97 L568.14,494.97 L568.14,494.97 L569.52,494.97 L569.52,494.77 L570.91,494.77 L570.91,493.98 L572.29,493.98 L572.29,493.98 L573.68,493.98 L573.68,493.98 L575.06,493.98 L575.06,493.54 L576.45,493.54 L576.45,493.05 L577.83,493.05 L577.83,493.05 L579.22,493.05 L579.22,492.25 L580.60,492.25 L580.60,492.25 L581.99,492.25 L581.99,491.96 L583.37,491.96 L583.37,491.60 L584.76,491.60 L584.76,491.60 L586.14,491.60 L586.14,491.13 L587.53,491.13 L587.53,491.13 L588.91,491.13 L588.91,490.82 L590.30,490.82 L590.30,490.82 L591.68,490.82 L591.68,490.82 L593.07,490.82 L593.07,490.45 L594.45,490.45 L594.45,489.39 L595.84,489.39 L595.84,489.39 L597.22,489.39 L597.22,489.08 L598.61,489.08 L598.61,488.64 L599.99,488.64 L599.99,488.36 L601.38,488.36 L601.38,488.36 L602.76,488.36 L602.76,488.36 L604.15,488.36 L604.15,488.01 L605.53,488.01 L605.53,487.49 L606.92,487.49 L606.92,487.49 L608.31,487.49 L608.31,486.68 L609.69,486.68 L609.69,486.20 L611.08,486.20 L611.08,485.70 L612.46,485.70 L612.46,485.70 L613.85,485.70 L613.85,484.73 L615.23,484.73 L615.23,484.73 L616.62,484.73 L616.62,484.49 L618.00,484.49 L618.00,483.77 L619.39,483.77 L619.39,483.01 L620.77,483.01 L620.77,483.01 L622.16,483.01 L622.16,482.14 L623.54,482.14 L623.54,482.09 L624.93,482.09 L624.93,481.89 L626.31,481.89 L626.31,481.45 L627.70,481.45 L627.70,481.16 L629.08,481.16 L629.08,480.83 L630.47,480.83 L630.47,480.40 L631.85,480.40 L631.85,479.57 L633.24,479.57 L633.24,478.98 L634.62,478.98 L634.62,478.98 L636.01,478.98 L636.01,478.98 L637.39,478.98 L637.39,478.17 L638.78,478.17 L638.78,478.17 L640.16,478.17 L640.16,478.17 L641.55,478.17 L641.55,478.12 L642.93,478.12 L642.93,477.48 L644.32,477.48 L644.32,476.96 L645.70,476.96 L645.70,476.96 L647.09,476.96 L647.09,476.85 L648.47,476.85 L648.47,476.85 L649.86,476.85 L649.86,476.00 L651.24,476.00 L651.24,476.00 L652.63,476.00 L652.63,476.00 L654.01,476.00 L654.01,475.56 L655.40,475.56 L655.40,475.56 L656.78,475.56 L656.78,475.33 L658.17,475.33 L658.17,474.94 L659.55,474.94 L659.55,474.94 L660.94,474.94 L660.94,474.76 L662.32,474.76 L662.32,474.76 L663.71,474.76 L663.71,474.72" fill="none" stroke="#8068cc" stroke-width="0.9" stroke-linejoin="round"/>
<path d="M497.50,516.40 L498.89,516.40 L498.89,513.36 L500.27,513.36 L500.27,511.66 L501.66,511.66 L501.66,510.91 L503.04,510.91 L503.04,510.04 L504.43,510.04 L504.43,509.19 L505.81,509.19 L505.81,507.31 L507.20,507.31 L507.20,506.31 L508.58,506.31 L508.58,504.81 L509.97,504.81 L509.97,504.01 L511.35,504.01 L511.35,502.28 L512.74,502.28 L512.74,501.47 L514.12,501.47 L514.12,499.60 L515.51,499.60 L515.51,498.35 L516.89,498.35 L516.89,497.35 L518.28,497.35 L518.28,495.89 L519.66,495.89 L519.66,494.87 L521.05,494.87 L521.05,494.87 L522.43,494.87 L522.43,494.18 L523.82,494.18 L523.82,493.50 L525.20,493.50 L525.20,493.50 L526.59,493.50 L526.59,492.68 L527.97,492.68 L527.97,491.96 L529.36,491.96 L529.36,490.38 L530.74,490.38 L530.74,489.50 L532.13,489.50 L532.13,488.34 L533.51,488.34 L533.51,486.20 L534.90,486.20 L534.90,485.11 L536.28,485.11 L536.28,484.52 L537.67,484.52 L537.67,483.92 L539.05,483.92 L539.05,482.86 L540.44,482.86 L540.44,481.45 L541.82,481.45 L541.82,480.84 L543.21,480.84 L543.21,479.20 L544.59,479.20 L544.59,478.62 L545.98,478.62 L545.98,478.06 L547.36,478.06 L547.36,476.63 L548.75,476.63 L548.75,475.97 L550.13,475.97 L550.13,474.48 L551.52,474.48 L551.52,473.60 L552.90,473.60 L552.90,473.11 L554.29,473.11 L554.29,472.07 L555.67,472.07 L555.67,471.12 L557.06,471.12 L557.06,470.11 L558.44,470.11 L558.44,469.03 L559.83,469.03 L559.83,469.03 L561.21,469.03 L561.21,467.87 L562.60,467.87 L562.60,466.72 L563.98,466.72 L563.98,466.12 L565.37,466.12 L565.37,464.93 L566.75,464.93 L566.75,464.54 L568.14,464.54 L568.14,462.83 L569.52,462.83 L569.52,462.29 L570.91,462.29 L570.91,462.10 L572.29,462.10 L572.29,460.99 L573.68,460.99 L573.68,460.81 L575.06,460.81 L575.06,460.38 L576.45,460.38 L576.45,459.53 L577.83,459.53 L577.83,459.34 L579.22,459.34 L579.22,458.72 L580.60,458.72 L580.60,457.49 L581.99,457.49 L581.99,457.12 L583.37,457.12 L583.37,457.12 L584.76,457.12 L584.76,455.94 L586.14,455.94 L586.14,455.94 L587.53,455.94 L587.53,455.21 L588.91,455.21 L588.91,454.03 L590.30,454.03 L590.30,453.73 L591.68,453.73 L591.68,453.47 L593.07,453.47 L593.07,452.80 L594.45,452.80 L594.45,452.20 L595.84,452.20 L595.84,451.88 L597.22,451.88 L597.22,450.38 L598.61,450.38 L598.61,450.38 L599.99,450.38 L599.99,449.80 L601.38,449.80 L601.38,448.87 L602.76,448.87 L602.76,448.64 L604.15,448.64 L604.15,447.44 L605.53,447.44 L605.53,447.44 L606.92,447.44 L606.92,446.46 L608.31,446.46 L608.31,446.21 L609.69,446.21 L609.69,446.10 L611.08,446.10 L611.08,445.53 L612.46,445.53 L612.46,445.53 L613.85,445.53 L613.85,444.90 L615.23,444.90 L615.23,444.59 L616.62,444.59 L616.62,444.54 L618.00,444.54 L618.00,444.25 L619.39,444.25 L619.39,443.66 L620.77,443.66 L620.77,443.62 L622.16,443.62 L622.16,443.62 L623.54,443.62 L623.54,442.59 L624.93,442.59 L624.93,442.59 L626.31,442.59 L626.31,442.17 L627.70,442.17 L627.70,441.52 L629.08,441.52 L629.08,441.52 L630.47,441.52 L630.47,441.52 L631.85,441.52 L631.85,441.03 L633.24,441.03 L633.24,440.12 L634.62,440.12 L634.62,439.92 L636.01,439.92 L636.01,439.59 L637.39,439.59 L637.39,438.95 L638.78,438.95 L638.78,438.02 L640.16,438.02 L640.16,438.02 L641.55,438.02 L641.55,437.68 L642.93,437.68 L642.93,436.76 L644.32,436.76 L644.32,436.60 L645.70,436.60 L645.70,436.52 L647.09,436.52 L647.09,435.87 L648.47,435.87 L648.47,435.43 L649.86,435.43 L649.86,435.34 L651.24,435.34 L651.24,434.66 L652.63,434.66 L652.63,434.29 L654.01,434.29 L654.01,433.44 L655.40,433.44 L655.40,433.44 L656.78,433.44 L656.78,433.43 L658.17,433.43 L658.17,433.03 L659.55,433.03 L659.55,432.99 L660.94,432.99 L660.94,432.99 L662.32,432.99 L662.32,432.99 L663.71,432.99 L663.71,432.99" fill="none" stroke="#d6484a" stroke-width="0.9" stroke-linejoin="round"/>
<line x1="663.7075" y1="475.01599999999996" x2="663.7075" y2="368.59999999999997" stroke="#8068cc" stroke-width="0.9"/>
<text x="520.40" y="355.00" font-size="13.2" text-anchor="start" fill="#000" style="stroke:#000;stroke-width:0.22px" >FOXA2 Sites (201.2)</text>
<text transform="translate(445.9,445.5) rotate(-90)" font-size="13.2" text-anchor="middle">Cumulative Fraction of</text>
<text transform="translate(462.0,446.0) rotate(-90)" font-size="13.2" text-anchor="middle">Genes %</text>
<text x="577.80" y="555.00" font-size="13.1" text-anchor="middle" fill="#000" style="stroke:#000;stroke-width:0.22px" >Rank of genes based on Regulatory</text>
<text x="577.20" y="569.00" font-size="13.1" text-anchor="middle" fill="#000" style="stroke:#000;stroke-width:0.22px" >potential Score (from high to low)</text>
<text x="510.30" y="421.20" font-size="13.15" text-anchor="start" fill="#000" style="stroke:#000;stroke-width:0.22px" >201.2 upregulated</text>
<text x="511.8" y="436" font-size="13.1"><tspan font-style="italic" font-size="11.5">P</tspan>&lt;10<tspan font-size="9" dy="-4.5">-35</tspan></text>
<text x="545.80" y="518.20" font-size="13.15" text-anchor="start" fill="#000" style="stroke:#000;stroke-width:0.22px" >201.2 downregulated</text>
<text x="625.80" y="502.60" font-size="10.5" text-anchor="start" fill="#000" style="stroke:#000;stroke-width:0.22px" >ns</text>
<line x1="560.80" y1="433.80" x2="572.75" y2="452.18" stroke="#000" stroke-width="1.15" />
<path d="M576.40,457.80 L569.37,453.78 L575.58,449.75 Z" fill="#000"/>
<line x1="620.70" y1="508.60" x2="610.10" y2="493.22" stroke="#000" stroke-width="1.15" />
<path d="M606.30,487.70 L613.43,491.53 L607.34,495.73 Z" fill="#000"/>
<line x1="621.40" y1="626.70" x2="652.40" y2="626.70" stroke="#e4e4e4" stroke-width="0.9" />
<line x1="621.40" y1="639.63" x2="652.40" y2="639.63" stroke="#e4e4e4" stroke-width="0.9" />
<line x1="621.40" y1="652.55" x2="652.40" y2="652.55" stroke="#e4e4e4" stroke-width="0.9" />
<line x1="621.40" y1="665.48" x2="652.40" y2="665.48" stroke="#e4e4e4" stroke-width="0.9" />
<line x1="621.40" y1="678.41" x2="652.40" y2="678.41" stroke="#e4e4e4" stroke-width="0.9" />
<line x1="621.40" y1="691.33" x2="652.40" y2="691.33" stroke="#e4e4e4" stroke-width="0.9" />
<line x1="621.40" y1="704.26" x2="652.40" y2="704.26" stroke="#e4e4e4" stroke-width="0.9" />
<line x1="621.40" y1="717.18" x2="652.40" y2="717.18" stroke="#e4e4e4" stroke-width="0.9" />
<line x1="621.40" y1="730.11" x2="652.40" y2="730.11" stroke="#e4e4e4" stroke-width="0.9" />
<line x1="621.40" y1="743.04" x2="652.40" y2="743.04" stroke="#e4e4e4" stroke-width="0.9" />
<line x1="621.40" y1="755.96" x2="652.40" y2="755.96" stroke="#e4e4e4" stroke-width="0.9" />
<line x1="621.40" y1="768.89" x2="652.40" y2="768.89" stroke="#e4e4e4" stroke-width="0.9" />
<line x1="621.40" y1="781.82" x2="652.40" y2="781.82" stroke="#e4e4e4" stroke-width="0.9" />
<line x1="621.40" y1="794.74" x2="652.40" y2="794.74" stroke="#e4e4e4" stroke-width="0.9" />
<line x1="621.40" y1="807.67" x2="652.40" y2="807.67" stroke="#e4e4e4" stroke-width="0.9" />
<line x1="621.40" y1="820.59" x2="652.40" y2="820.59" stroke="#e4e4e4" stroke-width="0.9" />
<line x1="621.40" y1="833.52" x2="652.40" y2="833.52" stroke="#e4e4e4" stroke-width="0.9" />
<line x1="621.40" y1="846.45" x2="652.40" y2="846.45" stroke="#e4e4e4" stroke-width="0.9" />
<line x1="621.40" y1="859.37" x2="652.40" y2="859.37" stroke="#e4e4e4" stroke-width="0.9" />
<line x1="621.40" y1="872.30" x2="652.40" y2="872.30" stroke="#e4e4e4" stroke-width="0.9" />
<line x1="629.70" y1="619.50" x2="629.70" y2="879.90" stroke="#e4e4e4" stroke-width="0.9" />
<line x1="643.90" y1="619.50" x2="643.90" y2="879.90" stroke="#e4e4e4" stroke-width="0.9" />
<circle cx="629.70" cy="626.70" r="7.90" fill="#5ab0f4" fill-opacity="0.85"/>
<text x="615.40" y="630.30" font-size="9.975" text-anchor="end" fill="#4d4d4d" style="stroke:#4d4d4d;stroke-width:0.22px" >GOBP_AMEBOIDAL_TYPE_CELL_MIGRATION</text>
<line x1="617.80" y1="626.70" x2="621.40" y2="626.70" stroke="#333" stroke-width="1.0" />
<circle cx="629.70" cy="639.63" r="7.80" fill="#4a92d4" fill-opacity="0.85"/>
<text x="615.40" y="643.23" font-size="9.975" text-anchor="end" fill="#4d4d4d" style="stroke:#4d4d4d;stroke-width:0.22px" >GOBP_POSITIVE_REGULATION_OF_CELL_PROJECTION_ORGANIZATION</text>
<line x1="617.80" y1="639.63" x2="621.40" y2="639.63" stroke="#333" stroke-width="1.0" />
<circle cx="629.70" cy="652.55" r="7.70" fill="#4a8fd0" fill-opacity="0.85"/>
<text x="615.40" y="656.15" font-size="9.975" text-anchor="end" fill="#4d4d4d" style="stroke:#4d4d4d;stroke-width:0.22px" >GOBP_REGULATION_OF_DEVELOPMENTAL_GROWTH</text>
<line x1="617.80" y1="652.55" x2="621.40" y2="652.55" stroke="#333" stroke-width="1.0" />
<circle cx="629.70" cy="665.48" r="7.70" fill="#3f7cba" fill-opacity="0.85"/>
<text x="615.40" y="669.08" font-size="9.975" text-anchor="end" fill="#4d4d4d" style="stroke:#4d4d4d;stroke-width:0.22px" >GOBP_CANONICAL_WNT_SIGNALING_PATHWAY</text>
<line x1="617.80" y1="665.48" x2="621.40" y2="665.48" stroke="#333" stroke-width="1.0" />
<circle cx="629.70" cy="678.41" r="7.70" fill="#3b72ac" fill-opacity="0.85"/>
<text x="615.40" y="682.01" font-size="9.975" text-anchor="end" fill="#4d4d4d" style="stroke:#4d4d4d;stroke-width:0.22px" >GOBP_REGULATION_OF_CANONICAL_WNT_SIGNALING_PATHWAY</text>
<line x1="617.80" y1="678.41" x2="621.40" y2="678.41" stroke="#333" stroke-width="1.0" />
<circle cx="629.70" cy="691.33" r="7.30" fill="#4a90d0" fill-opacity="0.85"/>
<text x="615.40" y="694.93" font-size="9.975" text-anchor="end" fill="#4d4d4d" style="stroke:#4d4d4d;stroke-width:0.22px" >GOBP_REGULATION_OF_NEUROGENESIS</text>
<line x1="617.80" y1="691.33" x2="621.40" y2="691.33" stroke="#333" stroke-width="1.0" />
<circle cx="629.70" cy="704.26" r="7.10" fill="#3f78b0" fill-opacity="0.85"/>
<text x="615.40" y="707.86" font-size="9.975" text-anchor="end" fill="#4d4d4d" style="stroke:#4d4d4d;stroke-width:0.22px" >GOBP_DEVELOPMENTAL_GROWTH_INVOLVED_IN_MORPHOGENESIS</text>
<line x1="617.80" y1="704.26" x2="621.40" y2="704.26" stroke="#333" stroke-width="1.0" />
<circle cx="629.70" cy="717.18" r="7.00" fill="#4282c0" fill-opacity="0.85"/>
<text x="615.40" y="720.78" font-size="9.975" text-anchor="end" fill="#4d4d4d" style="stroke:#4d4d4d;stroke-width:0.22px" >GOBP_REGULATION_OF_CELL_MORPHOGENESIS</text>
<line x1="617.80" y1="717.18" x2="621.40" y2="717.18" stroke="#333" stroke-width="1.0" />
<circle cx="629.70" cy="730.11" r="7.00" fill="#54a6ec" fill-opacity="0.85"/>
<text x="615.40" y="733.71" font-size="9.975" text-anchor="end" fill="#4d4d4d" style="stroke:#4d4d4d;stroke-width:0.22px" >GOBP_REGULATION_OF_CELL_DEVELOPMENT</text>
<line x1="617.80" y1="730.11" x2="621.40" y2="730.11" stroke="#333" stroke-width="1.0" />
<circle cx="629.70" cy="743.04" r="6.80" fill="#4a8fcf" fill-opacity="0.85"/>
<text x="615.40" y="746.64" font-size="9.975" text-anchor="end" fill="#4d4d4d" style="stroke:#4d4d4d;stroke-width:0.22px" >GOBP_MUSCLE_CELL_DIFFERENTIATION</text>
<line x1="617.80" y1="743.04" x2="621.40" y2="743.04" stroke="#333" stroke-width="1.0" />
<circle cx="643.90" cy="755.96" r="4.90" fill="#30496a" fill-opacity="0.85"/>
<text x="615.40" y="759.56" font-size="9.975" text-anchor="end" fill="#4d4d4d" style="stroke:#4d4d4d;stroke-width:0.22px" >GOBP_LUNG_EPITHELIUM_DEVELOPMENT</text>
<line x1="617.80" y1="755.96" x2="621.40" y2="755.96" stroke="#333" stroke-width="1.0" />
<circle cx="643.90" cy="768.89" r="4.90" fill="#2c4466" fill-opacity="0.85"/>
<text x="615.40" y="772.49" font-size="9.975" text-anchor="end" fill="#4d4d4d" style="stroke:#4d4d4d;stroke-width:0.22px" >GOBP_PROSTATE_GLAND_MORPHOGENESIS</text>
<line x1="617.80" y1="768.89" x2="621.40" y2="768.89" stroke="#333" stroke-width="1.0" />
<circle cx="643.90" cy="781.82" r="4.80" fill="#56b0f6" fill-opacity="0.85"/>
<text x="615.40" y="785.42" font-size="9.975" text-anchor="end" fill="#4d4d4d" style="stroke:#4d4d4d;stroke-width:0.22px" >GOBP_REGULATION_OF_ANATOMICAL_STRUCTURE_SIZE</text>
<line x1="617.80" y1="781.82" x2="621.40" y2="781.82" stroke="#333" stroke-width="1.0" />
<circle cx="643.90" cy="794.74" r="5.00" fill="#2c4466" fill-opacity="0.85"/>
<text x="615.40" y="798.34" font-size="9.975" text-anchor="end" fill="#4d4d4d" style="stroke:#4d4d4d;stroke-width:0.22px" >GOBP_RESPONSE_TO_TESTOSTERONE</text>
<line x1="617.80" y1="794.74" x2="621.40" y2="794.74" stroke="#333" stroke-width="1.0" />
<circle cx="643.90" cy="807.67" r="4.20" fill="#30496a" fill-opacity="0.85"/>
<text x="615.40" y="811.27" font-size="9.975" text-anchor="end" fill="#4d4d4d" style="stroke:#4d4d4d;stroke-width:0.22px" >GOBP_BRONCHUS_DEVELOPMENT</text>
<line x1="617.80" y1="807.67" x2="621.40" y2="807.67" stroke="#333" stroke-width="1.0" />
<circle cx="643.90" cy="820.59" r="4.30" fill="#2e4668" fill-opacity="0.85"/>
<text x="615.40" y="824.19" font-size="9.975" text-anchor="end" fill="#4d4d4d" style="stroke:#4d4d4d;stroke-width:0.22px" >GOBP_NEGATIVE_REGULATION_OF_CAMP_DEPENDENT_PROTEIN_KINASE_ACTIVITY</text>
<line x1="617.80" y1="820.59" x2="621.40" y2="820.59" stroke="#333" stroke-width="1.0" />
<circle cx="643.90" cy="833.52" r="4.20" fill="#30496a" fill-opacity="0.85"/>
<text x="615.40" y="837.12" font-size="9.975" text-anchor="end" fill="#4d4d4d" style="stroke:#4d4d4d;stroke-width:0.22px" >GOBP_REGULATION_OF_CAMP_DEPENDENT_PROTEIN_KINASE_ACTIVITY</text>
<line x1="617.80" y1="833.52" x2="621.40" y2="833.52" stroke="#333" stroke-width="1.0" />
<circle cx="643.90" cy="846.45" r="3.70" fill="#30496a" fill-opacity="0.85"/>
<text x="615.40" y="850.05" font-size="9.975" text-anchor="end" fill="#4d4d4d" style="stroke:#4d4d4d;stroke-width:0.22px" >GOBP_LUNG_CELL_DIFFERENTIATION</text>
<line x1="617.80" y1="846.45" x2="621.40" y2="846.45" stroke="#333" stroke-width="1.0" />
<circle cx="643.90" cy="859.37" r="3.40" fill="#3f6590" fill-opacity="0.85"/>
<text x="615.40" y="862.97" font-size="9.975" text-anchor="end" fill="#4d4d4d" style="stroke:#4d4d4d;stroke-width:0.22px" >GOBP_ALPHA_AMINO_ACID_CATABOLIC_PROCESS</text>
<line x1="617.80" y1="859.37" x2="621.40" y2="859.37" stroke="#333" stroke-width="1.0" />
<circle cx="643.90" cy="872.30" r="1.80" fill="#3a6898" fill-opacity="0.85"/>
<text x="615.40" y="875.90" font-size="9.975" text-anchor="end" fill="#4d4d4d" style="stroke:#4d4d4d;stroke-width:0.22px" >GOBP_GLAND_MORPHOGENESIS</text>
<line x1="617.80" y1="872.30" x2="621.40" y2="872.30" stroke="#333" stroke-width="1.0" />
<rect x="621.4" y="619.5" width="31.0" height="260.4" fill="none" stroke="#5a5a5a" stroke-width="0.9"/>
<line x1="629.70" y1="879.90" x2="629.70" y2="882.70" stroke="#333" stroke-width="1.0" />
<line x1="643.90" y1="879.90" x2="643.90" y2="882.70" stroke="#333" stroke-width="1.0" />
<text transform="translate(631.2,616.6) rotate(-63.5)" font-size="13" fill="#111">FOXA2</text>
<text transform="translate(647.9,616.0) rotate(-63.5)" font-size="13" fill="#111">FOXA1</text>
<rect x="282.9" y="657.3" width="377.7" height="29.5" fill="#ff3a48" fill-opacity="0.3"/>
<rect x="282.9" y="760.8" width="377.7" height="14.9" fill="#ff3a48" fill-opacity="0.3"/>
<rect x="282.9" y="786.8" width="377.7" height="14.9" fill="#ff3a48" fill-opacity="0.3"/>
</svg>
</body></html>
